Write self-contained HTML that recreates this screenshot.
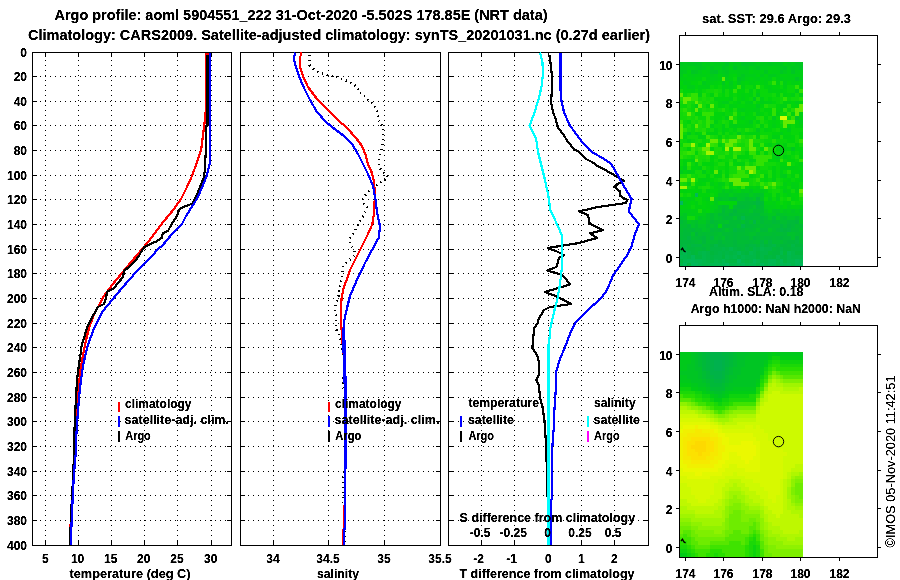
<!DOCTYPE html>
<html><head><meta charset="utf-8"><title>Argo profile</title>
<style>html,body{margin:0;padding:0;background:#fff}svg{display:block}</style></head>
<body>
<svg width="900" height="580" viewBox="0 0 900 580" font-family='"Liberation Sans", sans-serif' fill="#000">
<defs><filter id="thr" x="0" y="0" width="900" height="580" filterUnits="userSpaceOnUse" color-interpolation-filters="sRGB"><feComponentTransfer><feFuncA type="linear" slope="2.2" intercept="-0.35"/></feComponentTransfer></filter><filter id="thr2" x="0" y="0" width="900" height="580" filterUnits="userSpaceOnUse" color-interpolation-filters="sRGB"><feComponentTransfer><feFuncA type="linear" slope="2.2" intercept="-0.3"/></feComponentTransfer></filter></defs>
<rect width="900" height="580" fill="#fff"/>
<g shape-rendering="crispEdges">
<line x1="45.5" y1="55" x2="45.5" y2="545" stroke="#000" stroke-width="1" stroke-dasharray="1 4"/>
<line x1="78.5" y1="55" x2="78.5" y2="545" stroke="#000" stroke-width="1" stroke-dasharray="1 4"/>
<line x1="111.5" y1="55" x2="111.5" y2="545" stroke="#000" stroke-width="1" stroke-dasharray="1 4"/>
<line x1="144.5" y1="55" x2="144.5" y2="545" stroke="#000" stroke-width="1" stroke-dasharray="1 4"/>
<line x1="177.5" y1="55" x2="177.5" y2="545" stroke="#000" stroke-width="1" stroke-dasharray="1 4"/>
<line x1="211.5" y1="55" x2="211.5" y2="545" stroke="#000" stroke-width="1" stroke-dasharray="1 4"/>
<line x1="35" y1="76.5" x2="231" y2="76.5" stroke="#000" stroke-width="1" stroke-dasharray="1 4"/>
<line x1="35" y1="101.5" x2="231" y2="101.5" stroke="#000" stroke-width="1" stroke-dasharray="1 4"/>
<line x1="35" y1="125.5" x2="231" y2="125.5" stroke="#000" stroke-width="1" stroke-dasharray="1 4"/>
<line x1="35" y1="150.5" x2="231" y2="150.5" stroke="#000" stroke-width="1" stroke-dasharray="1 4"/>
<line x1="35" y1="175.5" x2="231" y2="175.5" stroke="#000" stroke-width="1" stroke-dasharray="1 4"/>
<line x1="35" y1="199.5" x2="231" y2="199.5" stroke="#000" stroke-width="1" stroke-dasharray="1 4"/>
<line x1="35" y1="224.5" x2="231" y2="224.5" stroke="#000" stroke-width="1" stroke-dasharray="1 4"/>
<line x1="35" y1="249.5" x2="231" y2="249.5" stroke="#000" stroke-width="1" stroke-dasharray="1 4"/>
<line x1="35" y1="273.5" x2="231" y2="273.5" stroke="#000" stroke-width="1" stroke-dasharray="1 4"/>
<line x1="35" y1="298.5" x2="231" y2="298.5" stroke="#000" stroke-width="1" stroke-dasharray="1 4"/>
<line x1="35" y1="323.5" x2="231" y2="323.5" stroke="#000" stroke-width="1" stroke-dasharray="1 4"/>
<line x1="35" y1="347.5" x2="231" y2="347.5" stroke="#000" stroke-width="1" stroke-dasharray="1 4"/>
<line x1="35" y1="372.5" x2="231" y2="372.5" stroke="#000" stroke-width="1" stroke-dasharray="1 4"/>
<line x1="35" y1="397.5" x2="231" y2="397.5" stroke="#000" stroke-width="1" stroke-dasharray="1 4"/>
<line x1="35" y1="421.5" x2="231" y2="421.5" stroke="#000" stroke-width="1" stroke-dasharray="1 4"/>
<line x1="35" y1="446.5" x2="231" y2="446.5" stroke="#000" stroke-width="1" stroke-dasharray="1 4"/>
<line x1="35" y1="471.5" x2="231" y2="471.5" stroke="#000" stroke-width="1" stroke-dasharray="1 4"/>
<line x1="35" y1="495.5" x2="231" y2="495.5" stroke="#000" stroke-width="1" stroke-dasharray="1 4"/>
<line x1="35" y1="520.5" x2="231" y2="520.5" stroke="#000" stroke-width="1" stroke-dasharray="1 4"/>
<rect x="32" y="52" width="200" height="1" fill="#000"/>
<rect x="32" y="545" width="200" height="1" fill="#000"/>
<rect x="32" y="52" width="1" height="494" fill="#000"/>
<rect x="231" y="52" width="1" height="494" fill="#000"/>
<rect x="45" y="52" width="1" height="5" fill="#000"/>
<rect x="45" y="541" width="1" height="5" fill="#000"/>
<rect x="78" y="52" width="1" height="5" fill="#000"/>
<rect x="78" y="541" width="1" height="5" fill="#000"/>
<rect x="111" y="52" width="1" height="5" fill="#000"/>
<rect x="111" y="541" width="1" height="5" fill="#000"/>
<rect x="144" y="52" width="1" height="5" fill="#000"/>
<rect x="144" y="541" width="1" height="5" fill="#000"/>
<rect x="177" y="52" width="1" height="5" fill="#000"/>
<rect x="177" y="541" width="1" height="5" fill="#000"/>
<rect x="211" y="52" width="1" height="5" fill="#000"/>
<rect x="211" y="541" width="1" height="5" fill="#000"/>
<rect x="32" y="52" width="5" height="1" fill="#000"/>
<rect x="227" y="52" width="5" height="1" fill="#000"/>
<rect x="32" y="76" width="5" height="1" fill="#000"/>
<rect x="227" y="76" width="5" height="1" fill="#000"/>
<rect x="32" y="101" width="5" height="1" fill="#000"/>
<rect x="227" y="101" width="5" height="1" fill="#000"/>
<rect x="32" y="125" width="5" height="1" fill="#000"/>
<rect x="227" y="125" width="5" height="1" fill="#000"/>
<rect x="32" y="150" width="5" height="1" fill="#000"/>
<rect x="227" y="150" width="5" height="1" fill="#000"/>
<rect x="32" y="175" width="5" height="1" fill="#000"/>
<rect x="227" y="175" width="5" height="1" fill="#000"/>
<rect x="32" y="199" width="5" height="1" fill="#000"/>
<rect x="227" y="199" width="5" height="1" fill="#000"/>
<rect x="32" y="224" width="5" height="1" fill="#000"/>
<rect x="227" y="224" width="5" height="1" fill="#000"/>
<rect x="32" y="249" width="5" height="1" fill="#000"/>
<rect x="227" y="249" width="5" height="1" fill="#000"/>
<rect x="32" y="273" width="5" height="1" fill="#000"/>
<rect x="227" y="273" width="5" height="1" fill="#000"/>
<rect x="32" y="298" width="5" height="1" fill="#000"/>
<rect x="227" y="298" width="5" height="1" fill="#000"/>
<rect x="32" y="323" width="5" height="1" fill="#000"/>
<rect x="227" y="323" width="5" height="1" fill="#000"/>
<rect x="32" y="347" width="5" height="1" fill="#000"/>
<rect x="227" y="347" width="5" height="1" fill="#000"/>
<rect x="32" y="372" width="5" height="1" fill="#000"/>
<rect x="227" y="372" width="5" height="1" fill="#000"/>
<rect x="32" y="397" width="5" height="1" fill="#000"/>
<rect x="227" y="397" width="5" height="1" fill="#000"/>
<rect x="32" y="421" width="5" height="1" fill="#000"/>
<rect x="227" y="421" width="5" height="1" fill="#000"/>
<rect x="32" y="446" width="5" height="1" fill="#000"/>
<rect x="227" y="446" width="5" height="1" fill="#000"/>
<rect x="32" y="471" width="5" height="1" fill="#000"/>
<rect x="227" y="471" width="5" height="1" fill="#000"/>
<rect x="32" y="495" width="5" height="1" fill="#000"/>
<rect x="227" y="495" width="5" height="1" fill="#000"/>
<rect x="32" y="520" width="5" height="1" fill="#000"/>
<rect x="227" y="520" width="5" height="1" fill="#000"/>
<rect x="32" y="545" width="5" height="1" fill="#000"/>
<rect x="227" y="545" width="5" height="1" fill="#000"/>
</g>
<g shape-rendering="crispEdges">
<line x1="273.5" y1="55" x2="273.5" y2="545" stroke="#000" stroke-width="1" stroke-dasharray="1 4"/>
<line x1="328.5" y1="55" x2="328.5" y2="545" stroke="#000" stroke-width="1" stroke-dasharray="1 4"/>
<line x1="384.5" y1="55" x2="384.5" y2="545" stroke="#000" stroke-width="1" stroke-dasharray="1 4"/>
<line x1="243" y1="76.5" x2="440" y2="76.5" stroke="#000" stroke-width="1" stroke-dasharray="1 4"/>
<line x1="243" y1="101.5" x2="440" y2="101.5" stroke="#000" stroke-width="1" stroke-dasharray="1 4"/>
<line x1="243" y1="125.5" x2="440" y2="125.5" stroke="#000" stroke-width="1" stroke-dasharray="1 4"/>
<line x1="243" y1="150.5" x2="440" y2="150.5" stroke="#000" stroke-width="1" stroke-dasharray="1 4"/>
<line x1="243" y1="175.5" x2="440" y2="175.5" stroke="#000" stroke-width="1" stroke-dasharray="1 4"/>
<line x1="243" y1="199.5" x2="440" y2="199.5" stroke="#000" stroke-width="1" stroke-dasharray="1 4"/>
<line x1="243" y1="224.5" x2="440" y2="224.5" stroke="#000" stroke-width="1" stroke-dasharray="1 4"/>
<line x1="243" y1="249.5" x2="440" y2="249.5" stroke="#000" stroke-width="1" stroke-dasharray="1 4"/>
<line x1="243" y1="273.5" x2="440" y2="273.5" stroke="#000" stroke-width="1" stroke-dasharray="1 4"/>
<line x1="243" y1="298.5" x2="440" y2="298.5" stroke="#000" stroke-width="1" stroke-dasharray="1 4"/>
<line x1="243" y1="323.5" x2="440" y2="323.5" stroke="#000" stroke-width="1" stroke-dasharray="1 4"/>
<line x1="243" y1="347.5" x2="440" y2="347.5" stroke="#000" stroke-width="1" stroke-dasharray="1 4"/>
<line x1="243" y1="372.5" x2="440" y2="372.5" stroke="#000" stroke-width="1" stroke-dasharray="1 4"/>
<line x1="243" y1="397.5" x2="440" y2="397.5" stroke="#000" stroke-width="1" stroke-dasharray="1 4"/>
<line x1="243" y1="421.5" x2="440" y2="421.5" stroke="#000" stroke-width="1" stroke-dasharray="1 4"/>
<line x1="243" y1="446.5" x2="440" y2="446.5" stroke="#000" stroke-width="1" stroke-dasharray="1 4"/>
<line x1="243" y1="471.5" x2="440" y2="471.5" stroke="#000" stroke-width="1" stroke-dasharray="1 4"/>
<line x1="243" y1="495.5" x2="440" y2="495.5" stroke="#000" stroke-width="1" stroke-dasharray="1 4"/>
<line x1="243" y1="520.5" x2="440" y2="520.5" stroke="#000" stroke-width="1" stroke-dasharray="1 4"/>
<rect x="240" y="52" width="201" height="1" fill="#000"/>
<rect x="240" y="545" width="201" height="1" fill="#000"/>
<rect x="240" y="52" width="1" height="494" fill="#000"/>
<rect x="440" y="52" width="1" height="494" fill="#000"/>
<rect x="273" y="52" width="1" height="5" fill="#000"/>
<rect x="273" y="541" width="1" height="5" fill="#000"/>
<rect x="328" y="52" width="1" height="5" fill="#000"/>
<rect x="328" y="541" width="1" height="5" fill="#000"/>
<rect x="384" y="52" width="1" height="5" fill="#000"/>
<rect x="384" y="541" width="1" height="5" fill="#000"/>
<rect x="240" y="52" width="5" height="1" fill="#000"/>
<rect x="436" y="52" width="5" height="1" fill="#000"/>
<rect x="240" y="76" width="5" height="1" fill="#000"/>
<rect x="436" y="76" width="5" height="1" fill="#000"/>
<rect x="240" y="101" width="5" height="1" fill="#000"/>
<rect x="436" y="101" width="5" height="1" fill="#000"/>
<rect x="240" y="125" width="5" height="1" fill="#000"/>
<rect x="436" y="125" width="5" height="1" fill="#000"/>
<rect x="240" y="150" width="5" height="1" fill="#000"/>
<rect x="436" y="150" width="5" height="1" fill="#000"/>
<rect x="240" y="175" width="5" height="1" fill="#000"/>
<rect x="436" y="175" width="5" height="1" fill="#000"/>
<rect x="240" y="199" width="5" height="1" fill="#000"/>
<rect x="436" y="199" width="5" height="1" fill="#000"/>
<rect x="240" y="224" width="5" height="1" fill="#000"/>
<rect x="436" y="224" width="5" height="1" fill="#000"/>
<rect x="240" y="249" width="5" height="1" fill="#000"/>
<rect x="436" y="249" width="5" height="1" fill="#000"/>
<rect x="240" y="273" width="5" height="1" fill="#000"/>
<rect x="436" y="273" width="5" height="1" fill="#000"/>
<rect x="240" y="298" width="5" height="1" fill="#000"/>
<rect x="436" y="298" width="5" height="1" fill="#000"/>
<rect x="240" y="323" width="5" height="1" fill="#000"/>
<rect x="436" y="323" width="5" height="1" fill="#000"/>
<rect x="240" y="347" width="5" height="1" fill="#000"/>
<rect x="436" y="347" width="5" height="1" fill="#000"/>
<rect x="240" y="372" width="5" height="1" fill="#000"/>
<rect x="436" y="372" width="5" height="1" fill="#000"/>
<rect x="240" y="397" width="5" height="1" fill="#000"/>
<rect x="436" y="397" width="5" height="1" fill="#000"/>
<rect x="240" y="421" width="5" height="1" fill="#000"/>
<rect x="436" y="421" width="5" height="1" fill="#000"/>
<rect x="240" y="446" width="5" height="1" fill="#000"/>
<rect x="436" y="446" width="5" height="1" fill="#000"/>
<rect x="240" y="471" width="5" height="1" fill="#000"/>
<rect x="436" y="471" width="5" height="1" fill="#000"/>
<rect x="240" y="495" width="5" height="1" fill="#000"/>
<rect x="436" y="495" width="5" height="1" fill="#000"/>
<rect x="240" y="520" width="5" height="1" fill="#000"/>
<rect x="436" y="520" width="5" height="1" fill="#000"/>
<rect x="240" y="545" width="5" height="1" fill="#000"/>
<rect x="436" y="545" width="5" height="1" fill="#000"/>
</g>
<g shape-rendering="crispEdges">
<line x1="481.5" y1="55" x2="481.5" y2="545" stroke="#000" stroke-width="1" stroke-dasharray="1 4"/>
<line x1="514.5" y1="55" x2="514.5" y2="545" stroke="#000" stroke-width="1" stroke-dasharray="1 4"/>
<line x1="548.5" y1="55" x2="548.5" y2="545" stroke="#000" stroke-width="1" stroke-dasharray="1 4"/>
<line x1="581.5" y1="55" x2="581.5" y2="545" stroke="#000" stroke-width="1" stroke-dasharray="1 4"/>
<line x1="614.5" y1="55" x2="614.5" y2="545" stroke="#000" stroke-width="1" stroke-dasharray="1 4"/>
<line x1="453" y1="76.5" x2="648" y2="76.5" stroke="#000" stroke-width="1" stroke-dasharray="1 4"/>
<line x1="453" y1="101.5" x2="648" y2="101.5" stroke="#000" stroke-width="1" stroke-dasharray="1 4"/>
<line x1="453" y1="125.5" x2="648" y2="125.5" stroke="#000" stroke-width="1" stroke-dasharray="1 4"/>
<line x1="453" y1="150.5" x2="648" y2="150.5" stroke="#000" stroke-width="1" stroke-dasharray="1 4"/>
<line x1="453" y1="175.5" x2="648" y2="175.5" stroke="#000" stroke-width="1" stroke-dasharray="1 4"/>
<line x1="453" y1="199.5" x2="648" y2="199.5" stroke="#000" stroke-width="1" stroke-dasharray="1 4"/>
<line x1="453" y1="224.5" x2="648" y2="224.5" stroke="#000" stroke-width="1" stroke-dasharray="1 4"/>
<line x1="453" y1="249.5" x2="648" y2="249.5" stroke="#000" stroke-width="1" stroke-dasharray="1 4"/>
<line x1="453" y1="273.5" x2="648" y2="273.5" stroke="#000" stroke-width="1" stroke-dasharray="1 4"/>
<line x1="453" y1="298.5" x2="648" y2="298.5" stroke="#000" stroke-width="1" stroke-dasharray="1 4"/>
<line x1="453" y1="323.5" x2="648" y2="323.5" stroke="#000" stroke-width="1" stroke-dasharray="1 4"/>
<line x1="453" y1="347.5" x2="648" y2="347.5" stroke="#000" stroke-width="1" stroke-dasharray="1 4"/>
<line x1="453" y1="372.5" x2="648" y2="372.5" stroke="#000" stroke-width="1" stroke-dasharray="1 4"/>
<line x1="453" y1="397.5" x2="648" y2="397.5" stroke="#000" stroke-width="1" stroke-dasharray="1 4"/>
<line x1="453" y1="421.5" x2="648" y2="421.5" stroke="#000" stroke-width="1" stroke-dasharray="1 4"/>
<line x1="453" y1="446.5" x2="648" y2="446.5" stroke="#000" stroke-width="1" stroke-dasharray="1 4"/>
<line x1="453" y1="471.5" x2="648" y2="471.5" stroke="#000" stroke-width="1" stroke-dasharray="1 4"/>
<line x1="453" y1="495.5" x2="648" y2="495.5" stroke="#000" stroke-width="1" stroke-dasharray="1 4"/>
<line x1="453" y1="520.5" x2="648" y2="520.5" stroke="#000" stroke-width="1" stroke-dasharray="1 4"/>
<rect x="448" y="52" width="201" height="1" fill="#000"/>
<rect x="448" y="545" width="201" height="1" fill="#000"/>
<rect x="448" y="52" width="1" height="494" fill="#000"/>
<rect x="648" y="52" width="1" height="494" fill="#000"/>
<rect x="481" y="52" width="1" height="5" fill="#000"/>
<rect x="481" y="541" width="1" height="5" fill="#000"/>
<rect x="514" y="52" width="1" height="5" fill="#000"/>
<rect x="514" y="541" width="1" height="5" fill="#000"/>
<rect x="548" y="52" width="1" height="5" fill="#000"/>
<rect x="548" y="541" width="1" height="5" fill="#000"/>
<rect x="581" y="52" width="1" height="5" fill="#000"/>
<rect x="581" y="541" width="1" height="5" fill="#000"/>
<rect x="614" y="52" width="1" height="5" fill="#000"/>
<rect x="614" y="541" width="1" height="5" fill="#000"/>
<rect x="448" y="52" width="5" height="1" fill="#000"/>
<rect x="644" y="52" width="5" height="1" fill="#000"/>
<rect x="448" y="76" width="5" height="1" fill="#000"/>
<rect x="644" y="76" width="5" height="1" fill="#000"/>
<rect x="448" y="101" width="5" height="1" fill="#000"/>
<rect x="644" y="101" width="5" height="1" fill="#000"/>
<rect x="448" y="125" width="5" height="1" fill="#000"/>
<rect x="644" y="125" width="5" height="1" fill="#000"/>
<rect x="448" y="150" width="5" height="1" fill="#000"/>
<rect x="644" y="150" width="5" height="1" fill="#000"/>
<rect x="448" y="175" width="5" height="1" fill="#000"/>
<rect x="644" y="175" width="5" height="1" fill="#000"/>
<rect x="448" y="199" width="5" height="1" fill="#000"/>
<rect x="644" y="199" width="5" height="1" fill="#000"/>
<rect x="448" y="224" width="5" height="1" fill="#000"/>
<rect x="644" y="224" width="5" height="1" fill="#000"/>
<rect x="448" y="249" width="5" height="1" fill="#000"/>
<rect x="644" y="249" width="5" height="1" fill="#000"/>
<rect x="448" y="273" width="5" height="1" fill="#000"/>
<rect x="644" y="273" width="5" height="1" fill="#000"/>
<rect x="448" y="298" width="5" height="1" fill="#000"/>
<rect x="644" y="298" width="5" height="1" fill="#000"/>
<rect x="448" y="323" width="5" height="1" fill="#000"/>
<rect x="644" y="323" width="5" height="1" fill="#000"/>
<rect x="448" y="347" width="5" height="1" fill="#000"/>
<rect x="644" y="347" width="5" height="1" fill="#000"/>
<rect x="448" y="372" width="5" height="1" fill="#000"/>
<rect x="644" y="372" width="5" height="1" fill="#000"/>
<rect x="448" y="397" width="5" height="1" fill="#000"/>
<rect x="644" y="397" width="5" height="1" fill="#000"/>
<rect x="448" y="421" width="5" height="1" fill="#000"/>
<rect x="644" y="421" width="5" height="1" fill="#000"/>
<rect x="448" y="446" width="5" height="1" fill="#000"/>
<rect x="644" y="446" width="5" height="1" fill="#000"/>
<rect x="448" y="471" width="5" height="1" fill="#000"/>
<rect x="644" y="471" width="5" height="1" fill="#000"/>
<rect x="448" y="495" width="5" height="1" fill="#000"/>
<rect x="644" y="495" width="5" height="1" fill="#000"/>
<rect x="448" y="520" width="5" height="1" fill="#000"/>
<rect x="644" y="520" width="5" height="1" fill="#000"/>
<rect x="448" y="545" width="5" height="1" fill="#000"/>
<rect x="644" y="545" width="5" height="1" fill="#000"/>
</g>
<g>
<polyline points="206.3,52.5 206.3,105.0 204.3,125.0 201.2,150.0 197.0,162.0 192.4,175.0 187.0,187.0 181.0,199.0 174.0,209.0 164.0,221.0 154.0,234.0 149.6,240.0 143.0,248.0 132.0,261.0 122.0,273.0 112.0,285.0 104.0,296.0 98.0,307.0 93.0,317.0 89.0,328.0 86.0,340.0 83.6,352.0 81.0,366.0 79.4,380.0 78.0,398.0 77.0,416.0 75.5,434.0 74.5,455.0 73.5,480.0 71.5,506.0 70.3,530.0 70.0,545.0" fill="none" stroke="#f00" stroke-width="2.2" stroke-linejoin="round" shape-rendering="crispEdges"/>
<rect x="206" y="53" width="3" height="2" fill="#f00"/>
<polyline points="207.5,55.0 207.5,126.0 206.0,127.0 205.9,150.0 205.4,158.0 205.0,170.0 203.6,178.0 200.0,187.0 196.0,197.0 192.4,203.6 186.0,206.0 179.6,209.0 177.0,216.0 173.0,222.0 170.0,227.0 168.0,231.0 163.0,233.0 161.6,238.0 156.0,241.6 150.0,244.0 144.0,247.3 141.0,252.0 139.0,256.0 136.0,260.0 130.0,266.0 124.0,271.0 123.0,277.0 118.0,283.0 114.0,288.0 107.0,292.0 106.0,298.0 104.0,304.0 98.0,307.0 94.0,314.0 91.0,319.0 87.0,328.0 84.0,338.0 81.6,346.0 80.4,355.6 79.0,364.0 77.0,380.0 76.0,398.0 75.0,416.0 74.4,434.0 74.0,455.0 73.0,480.0 71.5,506.0 70.5,530.0 70.2,545.0" fill="none" stroke="#000" stroke-width="2.2" stroke-linejoin="round" shape-rendering="crispEdges"/>
<polyline points="209.6,52.5 209.6,164.0 207.0,175.0 203.0,185.0 198.0,197.0 193.0,205.0 186.0,216.0 182.0,224.0 172.0,234.0 162.0,246.0 158.0,249.0 152.0,256.0 144.0,264.0 134.0,274.4 122.0,288.0 112.0,300.0 103.0,311.0 98.0,320.0 93.0,331.0 89.0,342.0 86.0,352.0 83.0,366.0 81.0,380.0 79.0,398.0 77.6,416.0 76.4,434.0 75.6,455.0 75.0,460.0 73.6,480.0 72.3,506.0 71.3,530.0 71.0,545.0" fill="none" stroke="#00f" stroke-width="2.2" stroke-linejoin="round" shape-rendering="crispEdges"/>
</g>
<polyline points="309.4,55.0 309.4,59.0 309.4,62.0 309.6,65.0 314.0,69.4 318.6,72.0 323.6,74.0 329.0,75.4 334.0,76.4 339.0,77.6 343.6,79.6 348.6,81.6 353.6,84.0 357.4,88.0 359.0,92.6 365.0,97.0 369.0,101.0 373.0,103.6 376.0,108.0 377.4,113.0 378.4,118.0 379.6,123.0 382.4,126.0 383.0,131.0 383.4,136.0 383.0,141.0 382.0,148.0 380.0,153.0 379.4,158.0 379.0,163.0 379.6,168.0 383.6,172.4 388.0,176.4 384.4,180.0 379.0,183.6 370.0,190.0 365.0,195.6 362.4,200.0 363.0,203.0 367.0,207.0 365.6,211.0 364.0,215.0 361.0,219.6 357.6,225.0 355.0,230.4 352.0,235.6 349.0,240.0 351.6,245.6 354.0,250.0 355.0,254.4 350.0,259.6 345.6,263.6 342.4,268.0 342.4,272.4 341.6,277.6 340.4,282.4 339.4,287.6 339.0,292.4 338.4,297.6 336.4,302.4 335.0,307.4 335.0,312.4 336.4,317.4 336.0,322.4 336.0,327.4 337.0,332.4 340.0,337.0 341.0,342.0 341.6,347.0 342.4,352.0 344.8,357.0 344.8,362.0 344.8,367.0 344.8,372.0 342.7,377.0 342.7,382.0 342.7,387.0 344.8,392.0 344.8,397.0 344.8,402.0 344.8,407.0 344.8,412.0 344.8,417.0 344.8,422.0 344.8,427.0 344.8,432.0 344.8,437.0 344.8,442.0 344.8,447.0 344.8,452.0 344.8,457.0 344.8,462.0 344.8,467.0 344.8,472.0 342.7,477.0 342.7,482.0 342.7,487.0 342.7,492.0 342.7,497.0 342.7,502.0 344.8,507.0 344.8,512.0 344.8,517.0 344.8,522.0 344.8,527.0 344.8,532.0 344.8,537.0 344.8,542.0" fill="none" stroke="#000" stroke-width="2.4" stroke-linejoin="round" stroke-dasharray="1.2 3.8" shape-rendering="crispEdges"/>
<polyline points="301.6,52.5 299.6,59.0 300.4,68.0 303.0,76.4 308.0,87.0 317.0,99.0 328.0,110.0 338.0,120.0 347.0,128.0 356.0,138.0 362.0,146.0 366.0,156.0 368.4,165.6 371.0,170.0 373.6,180.0 375.0,192.0 374.4,206.0 373.6,216.0 372.4,224.0 368.0,234.0 363.0,244.0 358.0,254.0 353.0,264.0 350.0,270.0 347.0,279.0 343.6,288.0 341.6,298.0 341.0,308.0 341.0,320.0 341.6,330.0 342.4,342.0 343.4,352.0 344.6,366.0 345.2,385.6 345.3,470.0 344.6,505.0 344.2,528.0 342.9,530.0 342.9,545.0" fill="none" stroke="#f00" stroke-width="2.2" stroke-linejoin="round" shape-rendering="crispEdges"/>
<polyline points="295.0,52.5 294.0,59.0 295.6,66.0 299.0,76.4 304.0,88.0 310.0,100.0 317.0,112.0 326.0,122.0 332.0,127.0 344.0,136.0 352.0,144.0 358.0,154.0 361.0,160.0 368.0,174.0 373.0,186.0 375.6,200.0 377.0,212.0 379.6,224.4 379.6,230.0 378.6,238.0 372.0,250.0 365.0,263.0 359.0,275.6 356.0,282.0 350.0,296.0 347.0,308.0 344.4,320.0 343.4,332.0 343.6,350.0 344.4,366.0 345.2,385.6 345.5,468.0 345.2,470.0 345.2,498.0 344.7,502.0 344.7,528.0 344.1,531.0 344.1,545.0" fill="none" stroke="#00f" stroke-width="2.2" stroke-linejoin="round" shape-rendering="crispEdges"/>
<polyline points="343.8,328.0 344.0,350.0 344.6,366.0 345.2,385.6 345.5,468.0" fill="none" stroke="#00f" stroke-width="3.2" stroke-linejoin="round" shape-rendering="crispEdges"/>
<polyline points="550.3,55.0 550.4,62.0 552.0,76.0 552.0,90.0 551.0,102.0 553.0,112.0 556.0,120.0 557.6,127.0 563.0,134.0 568.0,142.0 574.0,149.0 579.0,152.0 586.0,159.0 592.0,162.0 597.0,165.6 600.0,167.0 614.0,175.0 624.0,181.0 618.0,183.6 614.4,187.0 619.6,191.0 620.4,196.0 627.0,200.0 626.0,203.0 598.0,207.0 579.0,211.4 588.0,215.0 589.6,223.6 603.0,230.0 590.0,233.4 597.0,238.0 579.0,243.0 547.6,248.0 556.0,251.0 564.0,255.0 559.0,258.0 556.4,267.0 547.0,270.5 561.0,274.4 565.0,278.0 570.0,284.4 545.0,292.0 558.0,297.0 571.0,304.0 550.0,307.0 544.0,310.0 541.6,314.0 539.0,318.0 537.6,323.0 534.4,328.0 533.6,334.0 533.0,340.0 532.4,348.0 535.0,352.0 538.0,357.0 539.0,364.0 539.0,374.0 536.4,380.0 539.0,386.0 540.0,398.0 542.4,406.0 544.4,420.0 545.6,438.0 546.4,446.0 546.5,459.0 547.0,470.0 547.0,497.0" fill="none" stroke="#000" stroke-width="2.2" stroke-linejoin="round" shape-rendering="crispEdges"/>
<polyline points="560.5,52.5 560.5,90.0 561.6,102.0 564.0,112.0 569.0,124.0 576.0,134.0 583.0,143.0 592.0,152.0 604.0,159.0 611.0,163.5 617.0,174.0 625.0,188.0 631.6,199.0 630.0,205.0 629.0,211.6 639.0,224.4 635.0,234.0 631.6,246.0 628.0,254.0 621.0,264.0 613.0,275.6 607.0,290.0 601.0,298.4 590.0,308.0 575.0,323.0 570.0,334.0 565.0,347.0 560.0,359.0 556.4,371.0 556.0,385.6 555.6,392.0 554.4,410.0 553.6,430.0 552.4,446.0 552.0,470.0 552.0,498.0 551.2,500.0 551.2,530.0 550.8,545.0" fill="none" stroke="#00f" stroke-width="2.2" stroke-linejoin="round" shape-rendering="crispEdges"/>
<polyline points="540.0,52.5 542.4,62.0 543.0,74.0 541.6,86.0 539.0,98.0 534.0,114.0 529.6,125.6 536.0,138.0 538.0,152.0 540.0,160.0 545.0,180.0 548.4,196.0 550.4,210.0 556.0,222.0 562.0,235.6 562.4,250.0 561.6,264.0 561.6,270.0 560.0,284.0 557.6,298.0 554.0,312.0 550.4,328.0 549.0,344.0 548.5,360.0 548.5,385.6 548.5,470.0 548.8,545.0" fill="none" stroke="#0ff" stroke-width="2.2" stroke-linejoin="round" shape-rendering="crispEdges"/>
<polyline points="549.0,344.0 548.5,360.0 548.5,545.0" fill="none" stroke="#0ff" stroke-width="3" stroke-linejoin="round" shape-rendering="crispEdges"/>
<g shape-rendering="crispEdges">
<rect x="118" y="402" width="2" height="10" fill="#f00"/>
<rect x="118" y="416" width="2" height="11" fill="#00f"/>
<rect x="118" y="431" width="2" height="11" fill="#000"/>
<rect x="328" y="402" width="2" height="10" fill="#f00"/>
<rect x="328" y="416" width="2" height="11" fill="#00f"/>
<rect x="328" y="431" width="2" height="11" fill="#000"/>
<rect x="460" y="416" width="2" height="11" fill="#00f"/>
<rect x="460" y="431" width="2" height="11" fill="#000"/>
<rect x="587" y="416" width="2" height="11" fill="#0ff"/>
<rect x="587" y="431" width="2" height="11" fill="#f0f"/>
</g>
<g shape-rendering="crispEdges">
<path fill="#00b85f" d="M679 201h4v4h-4zM725 263h4v3h-4z"/>
<path fill="#00b85a" d="M695 193h3v4h-3zM737 259h4v4h-4zM683 263h4v3h-4zM691 263h7v3h-7zM760 263h4v3h-4zM799 263h4v3h-4z"/>
<path fill="#00b855" d="M691 255h4v4h-4zM687 259h8v4h-8zM753 259h3v4h-3zM780 259h3v4h-3zM795 259h4v4h-4zM722 263h3v3h-3zM741 263h4v3h-4zM768 263h4v3h-4zM780 263h3v3h-3zM787 263h4v3h-4zM795 263h4v3h-4z"/>
<path fill="#00b850" d="M683 251h4v4h-4zM737 251h4v4h-4zM787 251h4v4h-4zM679 255h4v4h-4zM683 259h4v4h-4zM695 259h7v4h-7zM722 259h3v4h-3zM768 259h8v4h-8zM799 259h4v4h-4zM698 263h4v3h-4zM710 263h12v3h-12zM737 263h4v3h-4zM749 263h7v3h-7zM772 263h4v3h-4zM783 263h4v3h-4z"/>
<path fill="#00b84b" d="M741 216h4v4h-4zM729 247h4v4h-4zM760 247h4v4h-4zM702 251h4v4h-4zM749 251h4v4h-4zM780 251h3v4h-3zM683 255h4v4h-4zM702 255h4v4h-4zM725 255h4v4h-4zM733 255h4v4h-4zM741 255h4v4h-4zM776 255h4v4h-4zM787 255h4v4h-4zM702 259h4v4h-4zM714 259h4v4h-4zM756 259h4v4h-4zM787 259h8v4h-8zM679 263h4v3h-4zM702 263h8v3h-8zM729 263h8v3h-8zM745 263h4v3h-4zM764 263h4v3h-4zM791 263h4v3h-4z"/>
<path fill="#00b746" d="M753 220h3v4h-3zM741 224h4v4h-4zM714 244h4v3h-4zM760 244h4v3h-4zM772 244h4v3h-4zM791 244h4v3h-4zM683 247h4v4h-4zM722 247h3v4h-3zM753 247h3v4h-3zM764 247h8v4h-8zM780 247h3v4h-3zM679 251h4v4h-4zM687 251h4v4h-4zM698 251h4v4h-4zM706 251h4v4h-4zM718 251h4v4h-4zM725 251h4v4h-4zM733 251h4v4h-4zM753 251h3v4h-3zM760 251h8v4h-8zM791 251h4v4h-4zM687 255h4v4h-4zM706 255h4v4h-4zM714 255h8v4h-8zM729 255h4v4h-4zM745 255h11v4h-11zM760 255h4v4h-4zM791 255h12v4h-12zM706 259h4v4h-4zM718 259h4v4h-4zM725 259h4v4h-4zM741 259h4v4h-4zM749 259h4v4h-4zM760 259h8v4h-8zM776 259h4v4h-4zM756 263h4v3h-4zM776 263h4v3h-4z"/>
<path fill="#00b741" d="M756 201h4v4h-4zM733 228h4v4h-4zM780 228h3v4h-3zM787 228h4v4h-4zM687 236h4v4h-4zM710 236h4v4h-4zM760 240h4v4h-4zM768 240h4v4h-4zM795 240h4v4h-4zM683 244h4v3h-4zM691 244h11v3h-11zM749 244h7v3h-7zM768 244h4v3h-4zM710 247h12v4h-12zM725 247h4v4h-4zM733 247h4v4h-4zM745 247h4v4h-4zM756 247h4v4h-4zM791 247h12v4h-12zM714 251h4v4h-4zM722 251h3v4h-3zM729 251h4v4h-4zM741 251h4v4h-4zM695 255h7v4h-7zM710 255h4v4h-4zM737 255h4v4h-4zM768 255h4v4h-4zM780 255h7v4h-7zM679 259h4v4h-4zM710 259h4v4h-4zM729 259h8v4h-8zM745 259h4v4h-4zM783 259h4v4h-4zM687 263h4v3h-4z"/>
<path fill="#00b73c" d="M733 209h4v4h-4zM729 213h4v3h-4zM795 220h4v4h-4zM780 224h3v4h-3zM787 224h4v4h-4zM783 228h4v4h-4zM695 232h3v4h-3zM702 236h4v4h-4zM753 236h3v4h-3zM780 236h3v4h-3zM795 236h4v4h-4zM679 240h12v4h-12zM702 240h4v4h-4zM718 240h4v4h-4zM733 240h4v4h-4zM787 240h8v4h-8zM679 244h4v3h-4zM710 244h4v3h-4zM718 244h7v3h-7zM733 244h4v3h-4zM745 244h4v3h-4zM764 244h4v3h-4zM780 244h7v3h-7zM795 244h8v3h-8zM679 247h4v4h-4zM687 247h8v4h-8zM702 247h4v4h-4zM737 247h4v4h-4zM776 247h4v4h-4zM783 247h8v4h-8zM691 251h4v4h-4zM710 251h4v4h-4zM745 251h4v4h-4zM756 251h4v4h-4zM772 251h8v4h-8zM795 251h8v4h-8zM722 255h3v4h-3zM756 255h4v4h-4zM764 255h4v4h-4zM772 255h4v4h-4z"/>
<path fill="#00ba38" d="M756 197h4v4h-4zM753 201h3v4h-3zM737 205h8v4h-8zM756 205h4v4h-4zM722 209h3v4h-3zM733 213h4v3h-4zM741 213h4v3h-4zM753 213h7v3h-7zM725 216h4v4h-4zM737 216h4v4h-4zM745 216h8v4h-8zM760 216h4v4h-4zM679 220h4v4h-4zM710 220h4v4h-4zM745 220h4v4h-4zM760 220h4v4h-4zM772 220h4v4h-4zM787 220h8v4h-8zM687 224h4v4h-4zM725 224h4v4h-4zM745 224h8v4h-8zM791 224h4v4h-4zM683 228h4v4h-4zM691 228h4v4h-4zM710 228h4v4h-4zM718 228h4v4h-4zM737 228h8v4h-8zM760 228h8v4h-8zM776 228h4v4h-4zM683 232h8v4h-8zM733 232h4v4h-4zM783 232h4v4h-4zM683 236h4v4h-4zM698 236h4v4h-4zM725 236h4v4h-4zM733 236h4v4h-4zM741 236h8v4h-8zM756 236h4v4h-4zM764 236h8v4h-8zM776 236h4v4h-4zM783 236h8v4h-8zM691 240h4v4h-4zM725 240h8v4h-8zM749 240h4v4h-4zM783 240h4v4h-4zM687 244h4v3h-4zM725 244h8v3h-8zM737 244h8v3h-8zM756 244h4v3h-4zM776 244h4v3h-4zM787 244h4v3h-4zM695 247h7v4h-7zM741 247h4v4h-4zM749 247h4v4h-4zM772 247h4v4h-4zM695 251h3v4h-3zM768 251h4v4h-4zM783 251h4v4h-4z"/>
<path fill="#00bc34" d="M733 197h4v4h-4zM737 201h16v4h-16zM760 201h4v4h-4zM745 205h4v4h-4zM753 209h3v4h-3zM718 213h7v3h-7zM737 213h4v3h-4zM749 213h4v3h-4zM722 216h3v4h-3zM729 216h4v4h-4zM753 216h7v4h-7zM772 216h4v4h-4zM729 220h12v4h-12zM776 220h4v4h-4zM714 224h4v4h-4zM722 224h3v4h-3zM729 224h8v4h-8zM753 224h3v4h-3zM764 224h8v4h-8zM783 224h4v4h-4zM799 224h4v4h-4zM687 228h4v4h-4zM714 228h4v4h-4zM749 228h4v4h-4zM791 228h8v4h-8zM679 232h4v4h-4zM702 232h4v4h-4zM710 232h4v4h-4zM722 232h11v4h-11zM737 232h8v4h-8zM756 232h4v4h-4zM772 232h4v4h-4zM780 232h3v4h-3zM679 236h4v4h-4zM695 236h3v4h-3zM729 236h4v4h-4zM737 236h4v4h-4zM760 236h4v4h-4zM772 236h4v4h-4zM695 240h3v4h-3zM710 240h8v4h-8zM722 240h3v4h-3zM737 240h12v4h-12zM753 240h3v4h-3zM772 240h8v4h-8zM799 240h4v4h-4zM702 244h8v3h-8zM706 247h4v4h-4z"/>
<path fill="#00be30" d="M729 197h4v4h-4zM745 197h4v4h-4zM722 205h3v4h-3zM733 205h4v4h-4zM749 205h4v4h-4zM760 205h4v4h-4zM729 209h4v4h-4zM737 209h12v4h-12zM756 209h8v4h-8zM710 213h4v3h-4zM725 213h4v3h-4zM745 213h4v3h-4zM710 216h4v4h-4zM764 216h4v4h-4zM783 216h4v4h-4zM795 216h4v4h-4zM683 220h4v4h-4zM714 220h4v4h-4zM764 220h8v4h-8zM780 220h7v4h-7zM679 224h8v4h-8zM695 224h3v4h-3zM706 224h4v4h-4zM756 224h8v4h-8zM772 224h8v4h-8zM795 224h4v4h-4zM679 228h4v4h-4zM695 228h7v4h-7zM722 228h3v4h-3zM729 228h4v4h-4zM745 228h4v4h-4zM753 228h3v4h-3zM772 228h4v4h-4zM698 232h4v4h-4zM706 232h4v4h-4zM714 232h4v4h-4zM745 232h4v4h-4zM760 232h12v4h-12zM776 232h4v4h-4zM795 232h8v4h-8zM691 236h4v4h-4zM706 236h4v4h-4zM718 236h4v4h-4zM749 236h4v4h-4zM799 236h4v4h-4zM698 240h4v4h-4zM706 240h4v4h-4zM756 240h4v4h-4zM764 240h4v4h-4zM780 240h3v4h-3z"/>
<path fill="#00c12c" d="M718 197h4v4h-4zM749 197h4v4h-4zM725 205h4v4h-4zM725 209h4v4h-4zM760 213h4v3h-4zM776 213h4v3h-4zM718 216h4v4h-4zM780 216h3v4h-3zM695 220h3v4h-3zM706 220h4v4h-4zM718 220h7v4h-7zM741 220h4v4h-4zM749 220h4v4h-4zM756 220h4v4h-4zM710 224h4v4h-4zM737 224h4v4h-4zM706 228h4v4h-4zM799 228h4v4h-4zM718 232h4v4h-4zM749 232h7v4h-7zM787 232h8v4h-8zM714 236h4v4h-4zM791 236h4v4h-4z"/>
<path fill="#00c428" d="M725 62h4v4h-4zM741 62h8v4h-8zM733 66h4v4h-4zM714 70h4v4h-4zM745 193h4v4h-4zM756 193h8v4h-8zM722 197h7v4h-7zM741 197h4v4h-4zM718 205h4v4h-4zM753 205h3v4h-3zM749 209h4v4h-4zM714 213h4v3h-4zM764 213h4v3h-4zM780 213h3v3h-3zM679 216h4v4h-4zM714 216h4v4h-4zM733 216h4v4h-4zM787 216h8v4h-8zM799 216h4v4h-4zM691 220h4v4h-4zM725 220h4v4h-4zM691 224h4v4h-4zM698 224h8v4h-8zM702 228h4v4h-4zM725 228h4v4h-4zM756 228h4v4h-4zM768 228h4v4h-4zM691 232h4v4h-4zM722 236h3v4h-3z"/>
<path fill="#00c624" d="M695 62h3v4h-3zM749 62h4v4h-4zM722 66h3v4h-3zM756 66h4v4h-4zM783 66h4v4h-4zM799 66h4v4h-4zM691 70h4v4h-4zM710 70h4v4h-4zM780 70h3v4h-3zM791 70h4v4h-4zM737 77h4v4h-4zM795 77h4v4h-4zM795 116h4v4h-4zM725 193h4v4h-4zM737 193h8v4h-8zM753 193h3v4h-3zM737 197h4v4h-4zM753 197h3v4h-3zM760 197h4v4h-4zM718 209h4v4h-4zM772 209h8v4h-8zM791 209h4v4h-4zM683 213h4v3h-4zM706 213h4v3h-4zM783 213h4v3h-4zM683 216h4v4h-4zM698 216h4v4h-4zM706 216h4v4h-4zM768 216h4v4h-4zM799 220h4v4h-4z"/>
<path fill="#00c820" d="M679 62h4v4h-4zM687 62h8v4h-8zM698 62h4v4h-4zM753 62h3v4h-3zM768 62h4v4h-4zM780 62h3v4h-3zM795 62h8v4h-8zM698 66h4v4h-4zM710 66h4v4h-4zM745 66h4v4h-4zM791 66h4v4h-4zM679 70h4v4h-4zM695 70h3v4h-3zM725 70h4v4h-4zM764 70h4v4h-4zM741 74h4v3h-4zM722 81h3v4h-3zM753 97h3v4h-3zM791 147h4v4h-4zM722 189h3v4h-3zM729 189h4v4h-4zM749 189h4v4h-4zM718 193h7v4h-7zM733 193h4v4h-4zM714 197h4v4h-4zM714 209h4v4h-4zM764 209h4v4h-4zM783 209h4v4h-4zM799 209h4v4h-4zM768 213h8v3h-8zM787 213h12v3h-12zM776 216h4v4h-4zM687 220h4v4h-4zM698 220h8v4h-8z"/>
<path fill="#00cb1c" d="M683 62h4v4h-4zM706 62h4v4h-4zM714 62h11v4h-11zM733 62h8v4h-8zM756 62h12v4h-12zM772 62h8v4h-8zM787 62h4v4h-4zM679 66h8v4h-8zM695 66h3v4h-3zM702 66h4v4h-4zM725 66h4v4h-4zM737 66h8v4h-8zM753 66h3v4h-3zM780 66h3v4h-3zM795 66h4v4h-4zM683 70h4v4h-4zM722 70h3v4h-3zM783 70h4v4h-4zM679 74h4v3h-4zM710 74h4v3h-4zM725 74h4v3h-4zM760 74h4v3h-4zM768 74h8v3h-8zM741 77h4v4h-4zM702 81h4v4h-4zM729 81h4v4h-4zM737 81h4v4h-4zM756 93h4v4h-4zM756 104h4v4h-4zM772 116h4v4h-4zM749 120h4v4h-4zM756 128h4v4h-4zM687 132h4v3h-4zM737 132h4v3h-4zM776 155h4v4h-4zM683 166h4v4h-4zM679 170h4v4h-4zM783 174h4v4h-4zM741 189h4v4h-4zM760 189h4v4h-4zM749 193h4v4h-4zM714 201h4v4h-4zM787 209h4v4h-4zM795 209h4v4h-4zM679 213h4v3h-4zM799 213h4v3h-4zM702 216h4v4h-4z"/>
<path fill="#00ce18" d="M702 62h4v4h-4zM710 62h4v4h-4zM729 62h4v4h-4zM791 62h4v4h-4zM687 66h8v4h-8zM714 66h8v4h-8zM749 66h4v4h-4zM760 66h8v4h-8zM776 66h4v4h-4zM787 66h4v4h-4zM698 70h4v4h-4zM718 70h4v4h-4zM737 70h12v4h-12zM795 70h4v4h-4zM691 74h4v3h-4zM714 74h4v3h-4zM722 74h3v3h-3zM737 74h4v3h-4zM745 74h11v3h-11zM710 77h8v4h-8zM725 77h4v4h-4zM756 77h4v4h-4zM768 77h4v4h-4zM780 77h3v4h-3zM799 77h4v4h-4zM683 81h4v4h-4zM783 81h4v4h-4zM687 85h8v4h-8zM706 85h4v4h-4zM729 85h4v4h-4zM795 89h4v4h-4zM722 101h7v3h-7zM749 101h4v3h-4zM760 101h4v3h-4zM795 101h4v3h-4zM695 104h3v4h-3zM741 108h4v4h-4zM756 112h4v4h-4zM725 116h4v4h-4zM741 116h4v4h-4zM799 120h4v4h-4zM733 124h4v4h-4zM787 128h4v4h-4zM780 132h3v3h-3zM776 143h4v4h-4zM780 151h3v4h-3zM687 170h4v4h-4zM702 170h4v4h-4zM780 174h3v4h-3zM687 182h4v4h-4zM718 182h4v4h-4zM725 189h4v4h-4zM733 189h4v4h-4zM745 189h4v4h-4zM783 189h4v4h-4zM729 193h4v4h-4zM679 197h4v4h-4zM687 197h4v4h-4zM706 197h4v4h-4zM768 197h4v4h-4zM776 197h4v4h-4zM683 201h4v4h-4zM710 205h8v4h-8zM764 205h8v4h-8zM787 205h4v4h-4zM679 209h12v4h-12zM710 209h4v4h-4zM780 209h3v4h-3zM691 213h4v3h-4zM702 213h4v3h-4z"/>
<path fill="#00d014" d="M783 62h4v4h-4zM706 66h4v4h-4zM729 66h4v4h-4zM768 66h8v4h-8zM706 70h4v4h-4zM729 70h8v4h-8zM753 70h11v4h-11zM772 70h8v4h-8zM787 70h4v4h-4zM799 70h4v4h-4zM687 74h4v3h-4zM695 74h11v3h-11zM776 74h4v3h-4zM787 74h16v3h-16zM679 77h8v4h-8zM691 77h4v4h-4zM706 77h4v4h-4zM718 77h4v4h-4zM745 77h4v4h-4zM753 77h3v4h-3zM764 77h4v4h-4zM776 77h4v4h-4zM783 77h12v4h-12zM687 81h4v4h-4zM706 81h8v4h-8zM749 81h4v4h-4zM764 81h4v4h-4zM776 81h4v4h-4zM791 81h4v4h-4zM698 85h8v4h-8zM722 85h3v4h-3zM741 85h4v4h-4zM768 85h4v4h-4zM783 85h4v4h-4zM722 89h3v4h-3zM749 89h4v4h-4zM768 89h4v4h-4zM698 93h4v4h-4zM791 93h4v4h-4zM799 93h4v4h-4zM729 97h4v4h-4zM741 97h4v4h-4zM760 97h4v4h-4zM737 101h4v3h-4zM745 101h4v3h-4zM764 101h8v3h-8zM787 101h4v3h-4zM729 104h4v4h-4zM780 104h7v4h-7zM737 108h4v4h-4zM753 108h7v4h-7zM776 112h4v4h-4zM799 112h4v4h-4zM714 120h4v4h-4zM710 124h4v4h-4zM722 124h3v4h-3zM729 124h4v4h-4zM772 124h4v4h-4zM722 128h3v4h-3zM695 132h3v3h-3zM698 135h4v4h-4zM772 135h8v4h-8zM768 143h4v4h-4zM783 155h4v4h-4zM691 159h4v3h-4zM749 159h4v3h-4zM695 162h3v4h-3zM799 162h4v4h-4zM698 166h4v4h-4zM780 166h7v4h-7zM791 166h4v4h-4zM780 170h3v4h-3zM702 178h4v4h-4zM772 178h4v4h-4zM710 182h4v4h-4zM722 182h3v4h-3zM729 182h4v4h-4zM783 182h4v4h-4zM791 182h4v4h-4zM718 186h4v3h-4zM756 186h4v3h-4zM791 186h8v3h-8zM706 189h4v4h-4zM718 189h4v4h-4zM753 189h7v4h-7zM764 189h4v4h-4zM795 189h4v4h-4zM776 193h4v4h-4zM787 193h4v4h-4zM691 197h4v4h-4zM695 201h3v4h-3zM772 201h4v4h-4zM683 205h4v4h-4zM772 205h4v4h-4zM780 205h3v4h-3zM799 205h4v4h-4zM691 209h7v4h-7zM702 209h4v4h-4zM768 209h4v4h-4zM687 213h4v3h-4zM695 213h7v3h-7zM695 216h3v4h-3z"/>
<path fill="#00d210" d="M687 70h4v4h-4zM702 70h4v4h-4zM749 70h4v4h-4zM768 70h4v4h-4zM706 74h4v3h-4zM718 74h4v3h-4zM729 74h4v3h-4zM756 74h4v3h-4zM764 74h4v3h-4zM780 74h7v3h-7zM687 77h4v4h-4zM695 77h7v4h-7zM729 77h4v4h-4zM749 77h4v4h-4zM760 77h4v4h-4zM714 81h4v4h-4zM741 81h4v4h-4zM753 81h3v4h-3zM760 81h4v4h-4zM795 81h4v4h-4zM679 85h4v4h-4zM725 85h4v4h-4zM753 85h3v4h-3zM764 85h4v4h-4zM799 85h4v4h-4zM691 89h4v4h-4zM698 89h4v4h-4zM756 89h4v4h-4zM772 89h11v4h-11zM710 93h4v4h-4zM741 93h4v4h-4zM749 93h4v4h-4zM776 93h4v4h-4zM783 93h4v4h-4zM714 97h4v4h-4zM718 101h4v3h-4zM783 101h4v3h-4zM718 104h4v4h-4zM733 104h4v4h-4zM745 104h8v4h-8zM745 108h8v4h-8zM780 108h3v4h-3zM722 112h3v4h-3zM745 112h4v4h-4zM791 112h4v4h-4zM737 116h4v4h-4zM753 116h3v4h-3zM799 116h4v4h-4zM745 120h4v4h-4zM756 120h4v4h-4zM772 120h4v4h-4zM737 124h16v4h-16zM760 124h4v4h-4zM799 124h4v4h-4zM714 128h4v4h-4zM733 128h4v4h-4zM764 128h4v4h-4zM706 132h12v3h-12zM722 132h3v3h-3zM749 132h11v3h-11zM683 135h4v4h-4zM702 135h4v4h-4zM718 135h4v4h-4zM756 135h4v4h-4zM783 135h8v4h-8zM687 139h4v4h-4zM718 143h4v4h-4zM783 143h4v4h-4zM780 147h7v4h-7zM772 151h4v4h-4zM737 155h4v4h-4zM772 155h4v4h-4zM799 155h4v4h-4zM683 159h4v3h-4zM733 159h4v3h-4zM776 159h4v3h-4zM683 162h4v4h-4zM710 162h4v4h-4zM737 162h8v4h-8zM772 166h4v4h-4zM787 166h4v4h-4zM795 166h4v4h-4zM683 170h4v4h-4zM691 170h4v4h-4zM718 170h4v4h-4zM772 170h4v4h-4zM799 170h4v4h-4zM706 174h4v4h-4zM714 174h8v4h-8zM725 174h4v4h-4zM764 174h4v4h-4zM772 174h4v4h-4zM791 174h4v4h-4zM799 174h4v4h-4zM698 178h4v4h-4zM706 178h4v4h-4zM787 178h4v4h-4zM799 178h4v4h-4zM698 182h4v4h-4zM795 182h4v4h-4zM695 186h3v3h-3zM714 186h4v3h-4zM749 186h4v3h-4zM783 186h4v3h-4zM683 189h4v4h-4zM698 189h4v4h-4zM737 189h4v4h-4zM787 189h4v4h-4zM768 193h4v4h-4zM683 197h4v4h-4zM702 197h4v4h-4zM791 197h4v4h-4zM687 201h4v4h-4zM706 201h4v4h-4zM764 201h8v4h-8zM787 201h4v4h-4zM679 205h4v4h-4zM687 205h4v4h-4zM695 205h7v4h-7zM706 205h4v4h-4zM776 205h4v4h-4zM791 205h8v4h-8z"/>
<path fill="#00d50c" d="M683 74h4v3h-4zM733 74h4v3h-4zM679 81h4v4h-4zM691 81h7v4h-7zM718 81h4v4h-4zM725 81h4v4h-4zM733 81h4v4h-4zM745 81h4v4h-4zM756 81h4v4h-4zM787 81h4v4h-4zM799 81h4v4h-4zM683 85h4v4h-4zM695 85h3v4h-3zM714 85h4v4h-4zM733 85h4v4h-4zM772 85h8v4h-8zM683 89h8v4h-8zM729 89h4v4h-4zM737 89h8v4h-8zM783 89h4v4h-4zM722 93h3v4h-3zM729 93h4v4h-4zM737 93h4v4h-4zM745 93h4v4h-4zM787 93h4v4h-4zM718 97h11v4h-11zM737 97h4v4h-4zM745 97h4v4h-4zM768 97h4v4h-4zM733 101h4v3h-4zM756 101h4v3h-4zM772 101h4v3h-4zM791 101h4v3h-4zM799 101h4v3h-4zM706 104h4v4h-4zM722 104h3v4h-3zM737 104h8v4h-8zM753 104h3v4h-3zM760 104h4v4h-4zM776 104h4v4h-4zM791 104h8v4h-8zM729 108h4v4h-4zM764 108h8v4h-8zM776 108h4v4h-4zM695 112h7v4h-7zM714 112h8v4h-8zM737 112h4v4h-4zM749 112h4v4h-4zM760 112h4v4h-4zM768 112h4v4h-4zM714 116h8v4h-8zM745 116h8v4h-8zM764 116h4v4h-4zM687 120h4v4h-4zM729 120h4v4h-4zM737 120h8v4h-8zM768 120h4v4h-4zM776 120h4v4h-4zM795 120h4v4h-4zM768 124h4v4h-4zM776 124h4v4h-4zM787 124h4v4h-4zM795 124h4v4h-4zM725 128h4v4h-4zM768 128h4v4h-4zM780 128h7v4h-7zM698 132h4v3h-4zM729 132h4v3h-4zM745 132h4v3h-4zM772 132h8v3h-8zM783 132h8v3h-8zM799 132h4v3h-4zM791 135h4v4h-4zM799 135h4v4h-4zM787 139h8v4h-8zM698 143h4v4h-4zM764 143h4v4h-4zM795 143h4v4h-4zM687 147h4v4h-4zM710 147h4v4h-4zM722 147h3v4h-3zM760 147h4v4h-4zM776 147h4v4h-4zM787 147h4v4h-4zM795 147h8v4h-8zM695 151h3v4h-3zM745 151h4v4h-4zM756 151h4v4h-4zM764 151h4v4h-4zM791 151h4v4h-4zM799 151h4v4h-4zM710 155h4v4h-4zM741 155h8v4h-8zM787 155h4v4h-4zM687 159h4v3h-4zM710 159h4v3h-4zM718 159h4v3h-4zM753 159h3v3h-3zM768 159h8v3h-8zM787 159h8v3h-8zM702 162h8v4h-8zM725 162h4v4h-4zM733 162h4v4h-4zM780 162h7v4h-7zM795 162h4v4h-4zM679 166h4v4h-4zM691 166h7v4h-7zM710 166h4v4h-4zM725 166h4v4h-4zM756 166h4v4h-4zM799 166h4v4h-4zM710 170h4v4h-4zM725 170h4v4h-4zM791 170h8v4h-8zM749 174h4v4h-4zM710 178h4v4h-4zM764 178h4v4h-4zM783 178h4v4h-4zM795 178h4v4h-4zM695 182h3v4h-3zM702 182h4v4h-4zM714 182h4v4h-4zM787 182h4v4h-4zM729 186h4v3h-4zM737 186h4v3h-4zM745 186h4v3h-4zM753 186h3v3h-3zM780 186h3v3h-3zM679 189h4v4h-4zM687 189h11v4h-11zM710 189h8v4h-8zM691 193h4v4h-4zM698 193h12v4h-12zM714 193h4v4h-4zM764 193h4v4h-4zM783 193h4v4h-4zM791 193h8v4h-8zM795 197h4v4h-4zM691 201h4v4h-4zM702 201h4v4h-4zM710 201h4v4h-4zM718 201h19v4h-19zM776 201h4v4h-4zM783 201h4v4h-4zM702 205h4v4h-4zM729 205h4v4h-4zM783 205h4v4h-4zM706 209h4v4h-4zM718 224h4v4h-4z"/>
<path fill="#08d70a" d="M702 77h4v4h-4zM733 77h4v4h-4zM772 77h4v4h-4zM698 81h4v4h-4zM768 81h4v4h-4zM710 85h4v4h-4zM718 85h4v4h-4zM745 85h8v4h-8zM760 85h4v4h-4zM780 85h3v4h-3zM787 85h8v4h-8zM695 89h3v4h-3zM702 89h4v4h-4zM760 89h8v4h-8zM787 89h8v4h-8zM683 93h4v4h-4zM706 93h4v4h-4zM718 93h4v4h-4zM733 93h4v4h-4zM760 93h12v4h-12zM749 97h4v4h-4zM764 97h4v4h-4zM772 97h8v4h-8zM787 97h4v4h-4zM714 101h4v3h-4zM729 101h4v3h-4zM741 101h4v3h-4zM776 101h4v3h-4zM679 104h8v4h-8zM691 104h4v4h-4zM714 104h4v4h-4zM725 104h4v4h-4zM691 108h4v4h-4zM698 108h4v4h-4zM714 108h4v4h-4zM725 108h4v4h-4zM760 108h4v4h-4zM787 108h4v4h-4zM725 112h8v4h-8zM741 112h4v4h-4zM764 112h4v4h-4zM780 112h7v4h-7zM698 116h8v4h-8zM710 116h4v4h-4zM722 116h3v4h-3zM776 116h4v4h-4zM787 116h4v4h-4zM683 120h4v4h-4zM718 120h4v4h-4zM753 120h3v4h-3zM764 120h4v4h-4zM683 124h4v4h-4zM691 124h4v4h-4zM714 124h8v4h-8zM753 124h3v4h-3zM780 124h3v4h-3zM791 124h4v4h-4zM691 128h4v4h-4zM706 128h4v4h-4zM718 128h4v4h-4zM729 128h4v4h-4zM741 128h4v4h-4zM753 128h3v4h-3zM760 128h4v4h-4zM772 128h4v4h-4zM791 128h12v4h-12zM683 132h4v3h-4zM691 132h4v3h-4zM733 132h4v3h-4zM741 132h4v3h-4zM760 132h12v3h-12zM791 132h8v3h-8zM725 135h4v4h-4zM768 135h4v4h-4zM683 139h4v4h-4zM691 139h4v4h-4zM702 139h4v4h-4zM764 139h8v4h-8zM776 139h11v4h-11zM679 143h4v4h-4zM702 143h4v4h-4zM722 143h3v4h-3zM753 143h7v4h-7zM772 143h4v4h-4zM780 143h3v4h-3zM729 147h4v4h-4zM729 151h4v4h-4zM776 151h4v4h-4zM783 151h4v4h-4zM795 151h4v4h-4zM691 155h4v4h-4zM714 155h4v4h-4zM725 155h8v4h-8zM749 155h4v4h-4zM791 155h4v4h-4zM679 159h4v3h-4zM722 159h7v3h-7zM741 159h4v3h-4zM783 159h4v3h-4zM795 159h4v3h-4zM679 162h4v4h-4zM691 162h4v4h-4zM714 162h4v4h-4zM749 162h4v4h-4zM776 162h4v4h-4zM791 162h4v4h-4zM706 166h4v4h-4zM718 166h7v4h-7zM768 166h4v4h-4zM776 166h4v4h-4zM706 170h4v4h-4zM760 170h8v4h-8zM776 170h4v4h-4zM783 170h4v4h-4zM695 174h3v4h-3zM753 174h3v4h-3zM776 174h4v4h-4zM787 174h4v4h-4zM714 178h4v4h-4zM741 178h8v4h-8zM760 178h4v4h-4zM768 178h4v4h-4zM780 178h3v4h-3zM791 178h4v4h-4zM799 182h4v4h-4zM691 186h4v3h-4zM710 186h4v3h-4zM722 186h3v3h-3zM733 186h4v3h-4zM776 186h4v3h-4zM787 186h4v3h-4zM799 186h4v3h-4zM768 189h4v4h-4zM780 189h3v4h-3zM683 193h4v4h-4zM710 193h4v4h-4zM780 193h3v4h-3zM695 197h7v4h-7zM764 197h4v4h-4zM772 197h4v4h-4zM783 197h4v4h-4zM698 201h4v4h-4zM780 201h3v4h-3zM795 201h8v4h-8zM691 205h4v4h-4z"/>
<path fill="#11d909" d="M679 89h4v4h-4zM706 89h8v4h-8zM718 89h4v4h-4zM725 89h4v4h-4zM745 89h4v4h-4zM753 89h3v4h-3zM725 93h4v4h-4zM753 93h3v4h-3zM772 93h4v4h-4zM795 93h4v4h-4zM698 97h4v4h-4zM706 97h4v4h-4zM733 97h4v4h-4zM780 97h3v4h-3zM791 97h8v4h-8zM679 101h4v3h-4zM691 101h4v3h-4zM702 101h4v3h-4zM710 101h4v3h-4zM753 101h3v3h-3zM780 101h3v3h-3zM702 104h4v4h-4zM768 104h8v4h-8zM687 108h4v4h-4zM706 108h4v4h-4zM718 108h4v4h-4zM679 112h4v4h-4zM753 112h3v4h-3zM679 116h8v4h-8zM691 116h4v4h-4zM733 116h4v4h-4zM768 116h4v4h-4zM695 120h3v4h-3zM702 120h4v4h-4zM725 120h4v4h-4zM780 120h3v4h-3zM702 124h4v4h-4zM725 124h4v4h-4zM687 128h4v4h-4zM710 128h4v4h-4zM737 128h4v4h-4zM749 128h4v4h-4zM776 128h4v4h-4zM718 132h4v3h-4zM725 132h4v3h-4zM687 135h11v4h-11zM714 135h4v4h-4zM729 135h8v4h-8zM745 135h4v4h-4zM795 135h4v4h-4zM679 139h4v4h-4zM695 139h3v4h-3zM706 139h4v4h-4zM718 139h4v4h-4zM760 139h4v4h-4zM795 139h4v4h-4zM737 143h8v4h-8zM787 143h8v4h-8zM799 143h4v4h-4zM683 147h4v4h-4zM756 147h4v4h-4zM772 147h4v4h-4zM718 151h7v4h-7zM741 151h4v4h-4zM787 151h4v4h-4zM687 155h4v4h-4zM780 155h3v4h-3zM702 159h4v3h-4zM714 159h4v3h-4zM745 159h4v3h-4zM764 162h12v4h-12zM714 166h4v4h-4zM729 166h8v4h-8zM760 166h8v4h-8zM695 170h7v4h-7zM722 170h3v4h-3zM729 170h8v4h-8zM745 170h4v4h-4zM756 170h4v4h-4zM691 174h4v4h-4zM698 174h8v4h-8zM710 174h4v4h-4zM756 174h4v4h-4zM695 178h3v4h-3zM718 178h4v4h-4zM749 178h4v4h-4zM776 178h4v4h-4zM683 182h4v4h-4zM706 182h4v4h-4zM725 182h4v4h-4zM749 182h4v4h-4zM756 182h4v4h-4zM780 182h3v4h-3zM687 186h4v3h-4zM698 186h4v3h-4zM760 186h4v3h-4zM768 186h4v3h-4zM702 189h4v4h-4zM772 189h8v4h-8zM791 189h4v4h-4zM687 193h4v4h-4zM772 193h4v4h-4zM780 197h3v4h-3zM799 197h4v4h-4zM791 201h4v4h-4zM687 216h8v4h-8z"/>
<path fill="#19db07" d="M780 81h3v4h-3zM714 89h4v4h-4zM687 93h4v4h-4zM780 93h3v4h-3zM702 97h4v4h-4zM710 97h4v4h-4zM756 97h4v4h-4zM687 101h4v3h-4zM706 101h4v3h-4zM687 104h4v4h-4zM679 108h4v4h-4zM702 108h4v4h-4zM710 108h4v4h-4zM733 108h4v4h-4zM683 112h4v4h-4zM691 112h4v4h-4zM687 116h4v4h-4zM756 116h4v4h-4zM691 120h4v4h-4zM722 120h3v4h-3zM760 120h4v4h-4zM687 124h4v4h-4zM698 124h4v4h-4zM756 124h4v4h-4zM764 124h4v4h-4zM698 128h4v4h-4zM710 135h4v4h-4zM722 135h3v4h-3zM749 135h4v4h-4zM780 135h3v4h-3zM698 139h4v4h-4zM741 139h4v4h-4zM753 139h7v4h-7zM695 143h3v4h-3zM679 147h4v4h-4zM695 147h3v4h-3zM714 147h8v4h-8zM745 147h4v4h-4zM714 151h4v4h-4zM683 155h4v4h-4zM698 155h8v4h-8zM795 155h4v4h-4zM698 159h4v3h-4zM706 159h4v3h-4zM729 159h4v3h-4zM737 159h4v3h-4zM698 162h4v4h-4zM718 162h7v4h-7zM753 162h3v4h-3zM702 166h4v4h-4zM741 166h4v4h-4zM768 170h4v4h-4zM679 174h8v4h-8zM768 174h4v4h-4zM795 174h4v4h-4zM687 178h4v4h-4zM725 178h4v4h-4zM753 178h3v4h-3zM679 182h4v4h-4zM753 182h3v4h-3zM764 182h4v4h-4zM776 182h4v4h-4zM702 186h8v3h-8zM679 193h4v4h-4zM787 197h4v4h-4zM698 209h4v4h-4z"/>
<path fill="#21dd05" d="M702 93h4v4h-4zM714 93h4v4h-4zM679 97h4v4h-4zM799 97h4v4h-4zM698 101h4v3h-4zM764 104h4v4h-4zM787 104h4v4h-4zM722 108h3v4h-3zM791 108h4v4h-4zM695 116h3v4h-3zM760 116h4v4h-4zM698 120h4v4h-4zM710 120h4v4h-4zM695 128h3v4h-3zM702 128h4v4h-4zM745 128h4v4h-4zM741 135h4v4h-4zM764 135h4v4h-4zM745 139h4v4h-4zM772 139h4v4h-4zM745 143h4v4h-4zM741 147h4v4h-4zM768 147h4v4h-4zM679 151h4v4h-4zM698 151h4v4h-4zM725 151h4v4h-4zM737 151h4v4h-4zM760 151h4v4h-4zM768 151h4v4h-4zM706 155h4v4h-4zM718 155h7v4h-7zM745 162h4v4h-4zM687 166h4v4h-4zM787 170h4v4h-4zM722 174h3v4h-3zM729 174h4v4h-4zM722 178h3v4h-3zM725 186h4v3h-4z"/>
<path fill="#2adf04" d="M683 108h4v4h-4zM683 128h4v4h-4zM760 135h4v4h-4zM725 139h4v4h-4zM737 139h4v4h-4zM714 143h4v4h-4zM733 143h4v4h-4zM698 147h4v4h-4zM683 151h4v4h-4zM733 151h4v4h-4zM679 155h4v4h-4zM695 155h3v4h-3zM753 155h3v4h-3zM729 162h4v4h-4zM772 186h4v3h-4z"/>
<path fill="#32e202" d="M772 81h4v4h-4zM737 85h4v4h-4zM756 85h4v4h-4zM795 85h4v4h-4zM733 89h4v4h-4zM799 89h4v4h-4zM691 93h7v4h-7zM691 97h7v4h-7zM783 97h4v4h-4zM772 108h4v4h-4zM783 108h4v4h-4zM702 112h12v4h-12zM733 112h4v4h-4zM772 112h4v4h-4zM787 112h4v4h-4zM706 116h4v4h-4zM791 116h4v4h-4zM679 120h4v4h-4zM706 120h4v4h-4zM733 120h4v4h-4zM706 124h4v4h-4zM702 132h4v3h-4zM753 135h3v4h-3zM799 139h4v4h-4zM683 143h8v4h-8zM710 143h4v4h-4zM760 143h4v4h-4zM691 147h4v4h-4zM691 151h4v4h-4zM702 151h4v4h-4zM749 151h7v4h-7zM733 155h4v4h-4zM756 155h16v4h-16zM756 159h12v3h-12zM780 159h3v3h-3zM799 159h4v3h-4zM687 162h4v4h-4zM756 162h8v4h-8zM737 170h8v4h-8zM687 174h4v4h-4zM733 174h16v4h-16zM760 174h4v4h-4zM756 178h4v4h-4zM691 182h4v4h-4zM760 182h4v4h-4zM768 182h4v4h-4zM741 186h4v3h-4zM799 193h4v4h-4z"/>
<path fill="#3ae400" d="M706 135h4v4h-4zM687 151h4v4h-4z"/>
<path fill="#66ea00" d="M722 77h3v4h-3zM679 93h4v4h-4zM683 97h8v4h-8zM683 101h4v3h-4zM695 101h3v3h-3zM698 104h4v4h-4zM710 104h4v4h-4zM799 104h4v4h-4zM695 108h3v4h-3zM795 108h8v4h-8zM687 112h4v4h-4zM795 112h4v4h-4zM729 116h4v4h-4zM783 120h12v4h-12zM679 124h4v4h-4zM695 124h3v4h-3zM783 124h4v4h-4zM679 128h4v4h-4zM679 132h4v3h-4zM679 135h4v4h-4zM737 135h4v4h-4zM710 139h8v4h-8zM722 139h3v4h-3zM729 139h8v4h-8zM749 139h4v4h-4zM725 143h8v4h-8zM749 143h4v4h-4zM702 147h8v4h-8zM749 147h7v4h-7zM764 147h4v4h-4zM695 159h3v3h-3zM787 162h4v4h-4zM737 166h4v4h-4zM745 166h11v4h-11zM714 170h4v4h-4zM753 170h3v4h-3zM679 178h8v4h-8zM729 178h12v4h-12zM733 182h16v4h-16zM772 182h4v4h-4zM764 186h4v3h-4zM799 189h4v4h-4zM710 197h4v4h-4z"/>
<path fill="#a3f400" d="M691 143h4v4h-4zM706 143h4v4h-4zM725 147h4v4h-4zM733 147h8v4h-8zM706 151h8v4h-8zM749 170h4v4h-4zM691 178h4v4h-4zM679 186h8v3h-8z"/>
<path fill="#d8fd00" d="M780 116h7v4h-7z"/>
</g>
<g shape-rendering="crispEdges">
<path fill="#00b14e" d="M714 360h8v4h-8zM714 364h8v3h-8zM714 367h8v4h-8z"/>
<path fill="#00b347" d="M710 352h12v4h-12zM710 356h15v4h-15zM710 360h4v4h-4zM722 360h3v4h-3zM710 364h4v3h-4zM722 364h3v3h-3zM710 367h4v4h-4zM722 367h3v4h-3zM710 371h12v4h-12zM714 375h8v4h-8z"/>
<path fill="#00b640" d="M706 352h4v4h-4zM722 352h7v4h-7zM706 356h4v4h-4zM725 356h4v4h-4zM706 360h4v4h-4zM725 360h4v4h-4zM706 364h4v3h-4zM725 364h4v3h-4zM706 367h4v4h-4zM722 371h3v4h-3zM710 375h4v4h-4zM722 375h3v4h-3zM714 379h8v4h-8z"/>
<path fill="#00b939" d="M702 352h4v4h-4zM729 352h4v4h-4zM702 356h4v4h-4zM729 356h4v4h-4zM702 360h4v4h-4zM729 360h4v4h-4zM702 364h4v3h-4zM729 364h4v3h-4zM702 367h4v4h-4zM725 367h4v4h-4zM706 371h4v4h-4zM725 371h4v4h-4zM706 375h4v4h-4zM710 379h4v4h-4zM722 379h3v4h-3zM710 383h12v4h-12z"/>
<path fill="#00bd32" d="M698 352h4v4h-4zM733 352h4v4h-4zM698 356h4v4h-4zM733 356h4v4h-4zM698 360h4v4h-4zM733 360h4v4h-4zM698 364h4v3h-4zM733 364h4v3h-4zM729 367h4v4h-4zM702 371h4v4h-4zM729 371h4v4h-4zM702 375h4v4h-4zM725 375h4v4h-4zM706 379h4v4h-4zM725 379h4v4h-4zM722 383h3v4h-3zM710 387h15v4h-15z"/>
<path fill="#00c12a" d="M695 352h3v4h-3zM737 352h12v4h-12zM695 356h3v4h-3zM737 356h8v4h-8zM695 360h3v4h-3zM737 360h8v4h-8zM695 364h3v3h-3zM737 364h8v3h-8zM695 367h7v4h-7zM733 367h8v4h-8zM698 371h4v4h-4zM733 371h8v4h-8zM698 375h4v4h-4zM729 375h8v4h-8zM702 379h4v4h-4zM729 379h4v4h-4zM706 383h4v4h-4zM725 383h4v4h-4zM714 391h8v3h-8z"/>
<path fill="#00c523" d="M691 352h4v4h-4zM749 352h19v4h-19zM691 356h4v4h-4zM745 356h23v4h-23zM691 360h4v4h-4zM745 360h19v4h-19zM687 364h8v3h-8zM745 364h19v3h-19zM687 367h8v4h-8zM741 367h19v4h-19zM679 371h19v4h-19zM741 371h19v4h-19zM687 375h11v4h-11zM737 375h23v4h-23zM691 379h11v4h-11zM733 379h23v4h-23zM698 383h8v4h-8zM729 383h27v4h-27zM706 387h4v4h-4zM725 387h8v4h-8zM710 391h4v3h-4zM722 391h3v3h-3zM718 394h4v4h-4z"/>
<path fill="#00c91b" d="M679 352h12v4h-12zM768 352h4v4h-4zM776 352h27v4h-27zM679 356h12v4h-12zM679 360h12v4h-12zM764 360h4v4h-4zM679 364h8v3h-8zM679 367h8v4h-8zM760 367h4v4h-4zM760 371h4v4h-4zM679 375h8v4h-8zM679 379h12v4h-12zM756 379h4v4h-4zM691 383h7v4h-7zM698 387h8v4h-8zM733 387h23v4h-23zM706 391h4v3h-4zM725 391h4v3h-4zM714 394h4v4h-4zM722 394h3v4h-3zM679 553h4v4h-4z"/>
<path fill="#00cd14" d="M772 352h4v4h-4zM768 356h4v4h-4zM780 356h23v4h-23zM764 364h4v3h-4zM679 383h12v4h-12zM756 383h4v4h-4zM691 387h7v4h-7zM702 391h4v3h-4zM729 391h27v3h-27zM710 394h4v4h-4zM725 394h4v4h-4zM714 398h8v4h-8zM683 553h4v4h-4z"/>
<path fill="#0dd30d" d="M772 356h8v4h-8zM768 360h4v4h-4zM780 360h23v4h-23zM764 367h4v4h-4zM760 375h4v4h-4zM679 387h12v4h-12zM695 391h7v3h-7zM702 394h8v4h-8zM729 394h20v4h-20zM710 398h4v4h-4zM722 398h7v4h-7zM718 402h4v4h-4zM753 545h3v4h-3zM679 549h8v4h-8zM753 549h3v4h-3zM687 553h4v4h-4zM753 553h3v4h-3z"/>
<path fill="#1bd807" d="M772 360h8v4h-8zM768 364h4v3h-4zM780 364h23v3h-23zM764 371h4v4h-4zM760 379h4v4h-4zM756 387h4v4h-4zM679 391h16v3h-16zM756 391h4v3h-4zM695 394h7v4h-7zM749 394h7v4h-7zM702 398h8v4h-8zM729 398h27v4h-27zM714 402h4v4h-4zM722 402h7v4h-7zM753 537h3v4h-3zM749 541h7v4h-7zM679 545h8v4h-8zM749 545h4v4h-4zM756 545h4v4h-4zM687 549h4v4h-4zM749 549h4v4h-4zM756 549h4v4h-4zM691 553h4v4h-4zM714 553h4v4h-4zM749 553h4v4h-4zM756 553h4v4h-4z"/>
<path fill="#28de00" d="M772 364h8v3h-8zM768 367h4v4h-4zM776 367h27v4h-27zM764 375h4v4h-4zM760 383h4v4h-4zM683 394h12v4h-12zM695 398h7v4h-7zM706 402h8v4h-8zM729 402h4v4h-4zM714 406h11v4h-11zM753 534h3v3h-3zM749 537h4v4h-4zM679 541h8v4h-8zM756 541h4v4h-4zM687 545h4v4h-4zM745 545h4v4h-4zM691 549h4v4h-4zM710 549h12v4h-12zM745 549h4v4h-4zM695 553h3v4h-3zM706 553h8v4h-8zM718 553h7v4h-7zM745 553h4v4h-4z"/>
<path fill="#3fe300" d="M772 367h4v4h-4zM768 371h4v4h-4zM780 371h23v4h-23zM764 379h4v4h-4zM760 387h4v4h-4zM679 394h4v4h-4zM756 394h4v4h-4zM691 398h4v4h-4zM698 402h8v4h-8zM733 402h23v4h-23zM710 406h4v4h-4zM725 406h4v4h-4zM718 410h4v4h-4zM753 530h3v4h-3zM683 534h4v3h-4zM749 534h4v3h-4zM756 534h4v3h-4zM679 537h12v4h-12zM745 537h4v4h-4zM756 537h4v4h-4zM687 541h4v4h-4zM729 541h12v4h-12zM745 541h4v4h-4zM691 545h4v4h-4zM710 545h35v4h-35zM695 549h15v4h-15zM722 549h23v4h-23zM760 549h4v4h-4zM698 553h8v4h-8zM725 553h20v4h-20zM760 553h4v4h-4z"/>
<path fill="#57e700" d="M776 371h4v4h-4zM783 375h20v4h-20zM679 398h12v4h-12zM695 402h3v4h-3zM706 406h4v4h-4zM729 406h8v4h-8zM714 410h4v4h-4zM722 410h3v4h-3zM753 522h3v4h-3zM749 526h7v4h-7zM683 530h8v4h-8zM733 530h8v4h-8zM749 530h4v4h-4zM756 530h4v4h-4zM679 534h4v3h-4zM687 534h4v3h-4zM729 534h20v3h-20zM691 537h4v4h-4zM725 537h20v4h-20zM691 541h7v4h-7zM710 541h19v4h-19zM741 541h4v4h-4zM760 541h4v4h-4zM695 545h15v4h-15zM760 545h4v4h-4z"/>
<path fill="#6eec00" d="M772 371h4v4h-4zM768 375h4v4h-4zM780 375h3v4h-3zM764 383h4v4h-4zM760 391h4v3h-4zM756 398h4v4h-4zM691 402h4v4h-4zM702 406h4v4h-4zM737 406h19v4h-19zM725 410h4v4h-4zM795 483h8v4h-8zM795 487h8v4h-8zM795 491h8v4h-8zM799 495h4v4h-4zM733 510h8v4h-8zM729 514h12v4h-12zM729 518h12v4h-12zM749 518h7v4h-7zM729 522h24v4h-24zM756 522h4v4h-4zM679 526h12v4h-12zM729 526h20v4h-20zM756 526h4v4h-4zM679 530h4v4h-4zM691 530h4v4h-4zM725 530h8v4h-8zM741 530h8v4h-8zM691 534h7v3h-7zM725 534h4v3h-4zM760 534h4v3h-4zM695 537h30v4h-30zM760 537h4v4h-4zM698 541h12v4h-12zM764 545h4v4h-4zM764 549h4v4h-4zM764 553h8v4h-8z"/>
<path fill="#7fef00" d="M776 375h4v4h-4zM783 379h20v4h-20zM687 402h4v4h-4zM698 406h4v4h-4zM710 410h4v4h-4zM729 410h4v4h-4zM718 414h7v4h-7zM795 479h8v4h-8zM791 487h4v4h-4zM791 491h4v4h-4zM795 495h4v4h-4zM795 499h8v4h-8zM733 503h8v3h-8zM729 506h12v4h-12zM729 510h4v4h-4zM741 510h4v4h-4zM741 514h19v4h-19zM725 518h4v4h-4zM741 518h8v4h-8zM756 518h4v4h-4zM679 522h12v4h-12zM725 522h4v4h-4zM691 526h7v4h-7zM725 526h4v4h-4zM695 530h19v4h-19zM722 530h3v4h-3zM760 530h4v4h-4zM698 534h27v3h-27zM764 537h4v4h-4zM764 541h4v4h-4zM768 545h8v4h-8zM768 549h35v4h-35zM772 553h31v4h-31z"/>
<path fill="#8ff200" d="M772 375h4v4h-4zM768 379h4v4h-4zM780 379h3v4h-3zM764 387h4v4h-4zM760 394h4v4h-4zM679 402h8v4h-8zM756 402h4v4h-4zM691 406h7v4h-7zM702 410h8v4h-8zM733 410h23v4h-23zM714 414h4v4h-4zM725 414h4v4h-4zM795 476h8v3h-8zM791 479h4v4h-4zM791 483h4v4h-4zM733 495h4v4h-4zM791 495h4v4h-4zM729 499h12v4h-12zM791 499h4v4h-4zM729 503h4v3h-4zM741 503h4v3h-4zM795 503h8v3h-8zM725 506h4v4h-4zM741 506h8v4h-8zM725 510h4v4h-4zM745 510h15v4h-15zM725 514h4v4h-4zM679 518h12v4h-12zM760 518h4v4h-4zM691 522h11v4h-11zM722 522h3v4h-3zM760 522h4v4h-4zM698 526h27v4h-27zM760 526h4v4h-4zM714 530h8v4h-8zM764 530h4v4h-4zM764 534h4v3h-4zM768 537h8v4h-8zM768 541h15v4h-15zM776 545h27v4h-27z"/>
<path fill="#a0f500" d="M776 379h4v4h-4zM783 383h20v4h-20zM687 406h4v4h-4zM698 410h4v4h-4zM710 414h4v4h-4zM729 414h8v4h-8zM718 418h11v4h-11zM799 472h4v4h-4zM791 476h4v3h-4zM787 487h4v4h-4zM729 491h12v4h-12zM787 491h4v4h-4zM729 495h4v4h-4zM737 495h8v4h-8zM787 495h4v4h-4zM725 499h4v4h-4zM741 499h4v4h-4zM725 503h4v3h-4zM745 503h4v3h-4zM791 503h4v3h-4zM749 506h11v4h-11zM795 506h8v4h-8zM722 510h3v4h-3zM760 510h4v4h-4zM679 514h16v4h-16zM722 514h3v4h-3zM760 514h4v4h-4zM691 518h34v4h-34zM702 522h20v4h-20zM764 522h4v4h-4zM764 526h4v4h-4zM768 530h4v4h-4zM768 534h12v3h-12zM776 537h11v4h-11zM795 537h8v4h-8zM783 541h20v4h-20z"/>
<path fill="#aff700" d="M772 379h4v4h-4zM768 383h4v4h-4zM776 383h7v4h-7zM783 387h16v4h-16zM764 391h4v3h-4zM760 398h4v4h-4zM679 406h8v4h-8zM756 406h4v4h-4zM695 410h3v4h-3zM706 414h4v4h-4zM737 414h19v4h-19zM714 418h4v4h-4zM729 418h4v4h-4zM722 422h3v3h-3zM791 472h8v4h-8zM787 479h4v4h-4zM733 483h4v4h-4zM787 483h4v4h-4zM729 487h12v4h-12zM725 491h4v4h-4zM741 491h4v4h-4zM725 495h4v4h-4zM745 495h4v4h-4zM722 499h3v4h-3zM745 499h8v4h-8zM787 499h4v4h-4zM722 503h3v3h-3zM749 503h11v3h-11zM787 503h4v3h-4zM679 506h8v4h-8zM718 506h7v4h-7zM760 506h4v4h-4zM787 506h8v4h-8zM679 510h16v4h-16zM714 510h8v4h-8zM791 510h12v4h-12zM695 514h27v4h-27zM764 514h4v4h-4zM799 514h4v4h-4zM764 518h4v4h-4zM768 522h4v4h-4zM768 526h12v4h-12zM772 530h11v4h-11zM799 530h4v4h-4zM780 534h23v3h-23zM787 537h8v4h-8z"/>
<path fill="#bef800" d="M772 383h4v4h-4zM768 387h15v4h-15zM799 387h4v4h-4zM768 391h4v3h-4zM780 391h23v3h-23zM764 394h4v4h-4zM764 398h4v4h-4zM760 402h4v4h-4zM679 410h16v4h-16zM756 410h4v4h-4zM698 414h8v4h-8zM710 418h4v4h-4zM733 418h23v4h-23zM718 422h4v3h-4zM725 422h12v3h-12zM795 464h8v4h-8zM791 468h12v4h-12zM787 472h4v4h-4zM787 476h4v3h-4zM729 479h12v4h-12zM783 479h4v4h-4zM725 483h8v4h-8zM737 483h8v4h-8zM783 483h4v4h-4zM722 487h7v4h-7zM741 487h8v4h-8zM783 487h4v4h-4zM722 491h3v4h-3zM745 491h11v4h-11zM783 491h4v4h-4zM722 495h3v4h-3zM749 495h11v4h-11zM783 495h4v4h-4zM679 499h8v4h-8zM718 499h4v4h-4zM753 499h11v4h-11zM783 499h4v4h-4zM679 503h12v3h-12zM714 503h8v3h-8zM760 503h4v3h-4zM783 503h4v3h-4zM687 506h31v4h-31zM764 506h4v4h-4zM783 506h4v4h-4zM695 510h19v4h-19zM764 510h8v4h-8zM783 510h8v4h-8zM768 514h8v4h-8zM780 514h19v4h-19zM768 518h35v4h-35zM772 522h31v4h-31zM780 526h23v4h-23zM783 530h16v4h-16z"/>
<path fill="#cdfa00" d="M772 391h8v3h-8zM768 394h35v4h-35zM768 398h35v4h-35zM764 402h39v4h-39zM760 406h43v4h-43zM760 410h43v4h-43zM679 414h19v4h-19zM756 414h47v4h-47zM706 418h4v4h-4zM756 418h47v4h-47zM714 422h4v3h-4zM737 422h66v3h-66zM722 425h23v4h-23zM753 425h3v4h-3zM760 425h43v4h-43zM764 429h39v4h-39zM768 433h35v4h-35zM768 437h35v4h-35zM772 441h31v4h-31zM776 445h27v4h-27zM783 449h20v3h-20zM787 452h16v4h-16zM783 456h20v4h-20zM783 460h20v4h-20zM783 464h12v4h-12zM783 468h8v4h-8zM733 472h4v4h-4zM783 472h4v4h-4zM725 476h20v3h-20zM783 476h4v3h-4zM718 479h11v4h-11zM741 479h12v4h-12zM780 479h3v4h-3zM679 483h8v4h-8zM714 483h11v4h-11zM745 483h15v4h-15zM780 483h3v4h-3zM679 487h12v4h-12zM714 487h8v4h-8zM749 487h15v4h-15zM780 487h3v4h-3zM679 491h12v4h-12zM714 491h8v4h-8zM756 491h12v4h-12zM780 491h3v4h-3zM679 495h16v4h-16zM710 495h12v4h-12zM760 495h8v4h-8zM776 495h7v4h-7zM687 499h11v4h-11zM706 499h12v4h-12zM764 499h8v4h-8zM776 499h7v4h-7zM691 503h23v3h-23zM764 503h19v3h-19zM768 506h15v4h-15zM772 510h11v4h-11zM776 514h4v4h-4z"/>
<path fill="#d7f900" d="M679 418h27v4h-27zM710 422h4v3h-4zM718 425h4v4h-4zM745 425h8v4h-8zM756 425h4v4h-4zM722 429h42v4h-42zM753 433h15v4h-15zM756 437h12v4h-12zM760 441h12v4h-12zM760 445h16v4h-16zM760 449h23v3h-23zM760 452h27v4h-27zM760 456h23v4h-23zM760 460h23v4h-23zM729 464h8v4h-8zM760 464h23v4h-23zM725 468h20v4h-20zM760 468h23v4h-23zM722 472h11v4h-11zM737 472h46v4h-46zM679 476h8v3h-8zM710 476h15v3h-15zM745 476h38v3h-38zM679 479h39v4h-39zM753 479h27v4h-27zM687 483h27v4h-27zM760 483h20v4h-20zM691 487h23v4h-23zM764 487h16v4h-16zM691 491h23v4h-23zM768 491h12v4h-12zM695 495h15v4h-15zM768 495h8v4h-8zM698 499h8v4h-8zM772 499h4v4h-4z"/>
<path fill="#e1f900" d="M679 422h31v3h-31zM679 425h4v4h-4zM710 425h8v4h-8zM718 429h4v4h-4zM725 433h28v4h-28zM729 437h27v4h-27zM729 441h12v4h-12zM753 441h7v4h-7zM756 445h4v4h-4zM756 449h4v3h-4zM729 452h8v4h-8zM756 452h4v4h-4zM729 456h12v4h-12zM753 456h7v4h-7zM725 460h20v4h-20zM749 460h11v4h-11zM722 464h7v4h-7zM737 464h23v4h-23zM679 468h4v4h-4zM718 468h7v4h-7zM745 468h15v4h-15zM679 472h16v4h-16zM702 472h20v4h-20zM687 476h23v3h-23z"/>
<path fill="#ebf800" d="M683 425h12v4h-12zM698 425h12v4h-12zM679 429h4v4h-4zM714 429h4v4h-4zM718 433h7v4h-7zM722 437h7v4h-7zM722 441h7v4h-7zM741 441h12v4h-12zM725 445h31v4h-31zM725 449h31v3h-31zM722 452h7v4h-7zM737 452h19v4h-19zM722 456h7v4h-7zM741 456h12v4h-12zM679 460h4v4h-4zM718 460h7v4h-7zM745 460h4v4h-4zM679 464h8v4h-8zM714 464h8v4h-8zM683 468h35v4h-35zM695 472h7v4h-7z"/>
<path fill="#f1f000" d="M695 425h3v4h-3zM683 429h12v4h-12zM702 429h12v4h-12zM679 433h8v4h-8zM710 433h8v4h-8zM679 437h4v4h-4zM718 437h4v4h-4zM679 441h4v4h-4zM718 441h4v4h-4zM679 445h4v4h-4zM718 445h7v4h-7zM679 449h4v3h-4zM718 449h7v3h-7zM679 452h4v4h-4zM718 452h4v4h-4zM679 456h4v4h-4zM714 456h8v4h-8zM683 460h8v4h-8zM710 460h8v4h-8zM687 464h27v4h-27z"/>
<path fill="#f6e900" d="M695 429h7v4h-7zM687 433h23v4h-23zM683 437h8v4h-8zM710 437h8v4h-8zM683 441h4v4h-4zM714 441h4v4h-4zM683 445h4v4h-4zM714 445h4v4h-4zM683 449h4v3h-4zM714 449h4v3h-4zM683 452h4v4h-4zM710 452h8v4h-8zM683 456h8v4h-8zM706 456h8v4h-8zM691 460h19v4h-19z"/>
<path fill="#fce100" d="M691 437h19v4h-19zM687 441h8v4h-8zM706 441h8v4h-8zM687 445h4v4h-4zM706 445h8v4h-8zM687 449h8v3h-8zM706 449h8v3h-8zM687 452h11v4h-11zM702 452h8v4h-8zM691 456h15v4h-15z"/>
<path fill="#fdd900" d="M695 441h11v4h-11zM691 445h15v4h-15zM695 449h11v3h-11zM698 452h4v4h-4z"/>
</g>
<g shape-rendering="crispEdges">
<rect x="679" y="35" width="199" height="1" fill="#000"/>
<rect x="679" y="266" width="199" height="1" fill="#000"/>
<rect x="679" y="35" width="1" height="232" fill="#000"/>
<rect x="877" y="35" width="1" height="232" fill="#000"/>
<rect x="685" y="32" width="1" height="3" fill="#000"/>
<rect x="685" y="267" width="1" height="3" fill="#000"/>
<rect x="723" y="32" width="1" height="3" fill="#000"/>
<rect x="723" y="267" width="1" height="3" fill="#000"/>
<rect x="762" y="32" width="1" height="3" fill="#000"/>
<rect x="762" y="267" width="1" height="3" fill="#000"/>
<rect x="800" y="32" width="1" height="3" fill="#000"/>
<rect x="800" y="267" width="1" height="3" fill="#000"/>
<rect x="839" y="32" width="1" height="3" fill="#000"/>
<rect x="839" y="267" width="1" height="3" fill="#000"/>
<rect x="676" y="64" width="3" height="1" fill="#000"/>
<rect x="878" y="64" width="3" height="1" fill="#000"/>
<rect x="676" y="102" width="3" height="1" fill="#000"/>
<rect x="878" y="102" width="3" height="1" fill="#000"/>
<rect x="676" y="141" width="3" height="1" fill="#000"/>
<rect x="878" y="141" width="3" height="1" fill="#000"/>
<rect x="676" y="180" width="3" height="1" fill="#000"/>
<rect x="878" y="180" width="3" height="1" fill="#000"/>
<rect x="676" y="218" width="3" height="1" fill="#000"/>
<rect x="878" y="218" width="3" height="1" fill="#000"/>
<rect x="676" y="257" width="3" height="1" fill="#000"/>
<rect x="878" y="257" width="3" height="1" fill="#000"/>
<rect x="679" y="325" width="199" height="1" fill="#000"/>
<rect x="679" y="557" width="199" height="1" fill="#000"/>
<rect x="679" y="325" width="1" height="233" fill="#000"/>
<rect x="877" y="325" width="1" height="233" fill="#000"/>
<rect x="685" y="322" width="1" height="3" fill="#000"/>
<rect x="685" y="558" width="1" height="3" fill="#000"/>
<rect x="723" y="322" width="1" height="3" fill="#000"/>
<rect x="723" y="558" width="1" height="3" fill="#000"/>
<rect x="762" y="322" width="1" height="3" fill="#000"/>
<rect x="762" y="558" width="1" height="3" fill="#000"/>
<rect x="800" y="322" width="1" height="3" fill="#000"/>
<rect x="800" y="558" width="1" height="3" fill="#000"/>
<rect x="839" y="322" width="1" height="3" fill="#000"/>
<rect x="839" y="558" width="1" height="3" fill="#000"/>
<rect x="676" y="354" width="3" height="1" fill="#000"/>
<rect x="878" y="354" width="3" height="1" fill="#000"/>
<rect x="676" y="392" width="3" height="1" fill="#000"/>
<rect x="878" y="392" width="3" height="1" fill="#000"/>
<rect x="676" y="431" width="3" height="1" fill="#000"/>
<rect x="878" y="431" width="3" height="1" fill="#000"/>
<rect x="676" y="470" width="3" height="1" fill="#000"/>
<rect x="878" y="470" width="3" height="1" fill="#000"/>
<rect x="676" y="508" width="3" height="1" fill="#000"/>
<rect x="878" y="508" width="3" height="1" fill="#000"/>
<rect x="676" y="547" width="3" height="1" fill="#000"/>
<rect x="878" y="547" width="3" height="1" fill="#000"/>
</g>
<circle cx="778.5" cy="150.4" r="5.2" fill="none" stroke="#000" stroke-width="1"/>
<path d="M681 250 L682.5 248.2 L684 251 L685.6 251.8" fill="none" stroke="#000" stroke-width="1.4"/>
<circle cx="778.5" cy="441.6" r="5.2" fill="none" stroke="#000" stroke-width="1"/>
<path d="M681 541 L682.5 539.2 L684 542 L685.6 542.8" fill="none" stroke="#000" stroke-width="1.4"/>
<g filter="url(#thr2)"><text transform="translate(895,547.5) rotate(-90)" font-size="13" font-weight="normal" textLength="172" lengthAdjust="spacingAndGlyphs">©IMOS 05-Nov-2020 11:42:51</text></g>
<g filter="url(#thr)">
<text x="54.5" y="19.5" font-size="14" font-weight="bold" text-anchor="start" textLength="493" lengthAdjust="spacingAndGlyphs" >Argo profile: aoml 5904551_222 31-Oct-2020 -5.502S 178.85E (NRT data)</text>
<text x="28" y="39.5" font-size="14" font-weight="bold" text-anchor="start" textLength="622" lengthAdjust="spacingAndGlyphs" >Climatology: CARS2009. Satellite-adjusted climatology: synTS_20201031.nc (0.27d earlier)</text>
<text x="27" y="57.2" font-size="12" font-weight="bold" text-anchor="end" >0</text>
<text x="27" y="81.2" font-size="12" font-weight="bold" text-anchor="end" >20</text>
<text x="27" y="106.2" font-size="12" font-weight="bold" text-anchor="end" >40</text>
<text x="27" y="130.2" font-size="12" font-weight="bold" text-anchor="end" >60</text>
<text x="27" y="155.2" font-size="12" font-weight="bold" text-anchor="end" >80</text>
<text x="27" y="180.2" font-size="12" font-weight="bold" text-anchor="end" >100</text>
<text x="27" y="204.2" font-size="12" font-weight="bold" text-anchor="end" >120</text>
<text x="27" y="229.2" font-size="12" font-weight="bold" text-anchor="end" >140</text>
<text x="27" y="254.2" font-size="12" font-weight="bold" text-anchor="end" >160</text>
<text x="27" y="278.2" font-size="12" font-weight="bold" text-anchor="end" >180</text>
<text x="27" y="303.2" font-size="12" font-weight="bold" text-anchor="end" >200</text>
<text x="27" y="328.2" font-size="12" font-weight="bold" text-anchor="end" >220</text>
<text x="27" y="352.2" font-size="12" font-weight="bold" text-anchor="end" >240</text>
<text x="27" y="377.2" font-size="12" font-weight="bold" text-anchor="end" >260</text>
<text x="27" y="402.2" font-size="12" font-weight="bold" text-anchor="end" >280</text>
<text x="27" y="426.2" font-size="12" font-weight="bold" text-anchor="end" >300</text>
<text x="27" y="451.2" font-size="12" font-weight="bold" text-anchor="end" >320</text>
<text x="27" y="476.2" font-size="12" font-weight="bold" text-anchor="end" >340</text>
<text x="27" y="500.2" font-size="12" font-weight="bold" text-anchor="end" >360</text>
<text x="27" y="525.2" font-size="12" font-weight="bold" text-anchor="end" >380</text>
<text x="27" y="550.2" font-size="12" font-weight="bold" text-anchor="end" >400</text>
<text x="45.3" y="563" font-size="12" font-weight="bold" text-anchor="middle" >5</text>
<text x="77.6" y="563" font-size="12" font-weight="bold" text-anchor="middle" >10</text>
<text x="110.7" y="563" font-size="12" font-weight="bold" text-anchor="middle" >15</text>
<text x="143.8" y="563" font-size="12" font-weight="bold" text-anchor="middle" >20</text>
<text x="176.9" y="563" font-size="12" font-weight="bold" text-anchor="middle" >25</text>
<text x="210.8" y="563" font-size="12" font-weight="bold" text-anchor="middle" >30</text>
<text x="273" y="563" font-size="12" font-weight="bold" text-anchor="middle" >34</text>
<text x="328" y="563" font-size="12" font-weight="bold" text-anchor="middle" >34.5</text>
<text x="384" y="563" font-size="12" font-weight="bold" text-anchor="middle" >35</text>
<text x="440" y="563" font-size="12" font-weight="bold" text-anchor="middle" >35.5</text>
<text x="478.7" y="563" font-size="12" font-weight="bold" text-anchor="middle" >-2</text>
<text x="511.7" y="563" font-size="12" font-weight="bold" text-anchor="middle" >-1</text>
<text x="548.3" y="563" font-size="12" font-weight="bold" text-anchor="middle" >0</text>
<text x="581.3" y="563" font-size="12" font-weight="bold" text-anchor="middle" >1</text>
<text x="614.3" y="563" font-size="12" font-weight="bold" text-anchor="middle" >2</text>
<text x="69.5" y="578" font-size="12" font-weight="bold" text-anchor="start" textLength="121" lengthAdjust="spacingAndGlyphs" >temperature (deg C)</text>
<text x="317" y="578" font-size="12" font-weight="bold" text-anchor="start" textLength="42" lengthAdjust="spacingAndGlyphs" >salinity</text>
<text x="459.5" y="578" font-size="12" font-weight="bold" text-anchor="start" textLength="175" lengthAdjust="spacingAndGlyphs" >T difference from climatology</text>
<text x="125" y="407.6" font-size="12" font-weight="bold" text-anchor="start" textLength="66.5" lengthAdjust="spacingAndGlyphs" >climatology</text>
<text x="124.6" y="423.5" font-size="12" font-weight="bold" text-anchor="start" textLength="104.4" lengthAdjust="spacingAndGlyphs" >satellite-adj. clim.</text>
<text x="125.3" y="439.7" font-size="12" font-weight="bold" text-anchor="start" textLength="25.5" lengthAdjust="spacingAndGlyphs" >Argo</text>
<text x="335" y="407.6" font-size="12" font-weight="bold" text-anchor="start" textLength="66.5" lengthAdjust="spacingAndGlyphs" >climatology</text>
<text x="334.6" y="423.5" font-size="12" font-weight="bold" text-anchor="start" textLength="104.8" lengthAdjust="spacingAndGlyphs" >satellite-adj. clim.</text>
<text x="335.3" y="439.7" font-size="12" font-weight="bold" text-anchor="start" textLength="26" lengthAdjust="spacingAndGlyphs" >Argo</text>
<text x="468.4" y="407.3" font-size="12" font-weight="bold" text-anchor="start" textLength="70.6" lengthAdjust="spacingAndGlyphs" >temperature</text>
<text x="468" y="423.5" font-size="12" font-weight="bold" text-anchor="start" textLength="46" lengthAdjust="spacingAndGlyphs" >satellite</text>
<text x="468.4" y="439.7" font-size="12" font-weight="bold" text-anchor="start" textLength="25.6" lengthAdjust="spacingAndGlyphs" >Argo</text>
<text x="594" y="407.3" font-size="12" font-weight="bold" text-anchor="start" textLength="41.6" lengthAdjust="spacingAndGlyphs" >salinity</text>
<text x="593.6" y="423.5" font-size="12" font-weight="bold" text-anchor="start" textLength="46.4" lengthAdjust="spacingAndGlyphs" >satellite</text>
<text x="594" y="439.7" font-size="12" font-weight="bold" text-anchor="start" textLength="25.6" lengthAdjust="spacingAndGlyphs" >Argo</text>
<text x="459.6" y="522.4" font-size="12" font-weight="bold" text-anchor="start" textLength="175.5" lengthAdjust="spacingAndGlyphs" >S difference from climatology</text>
<text x="480" y="537" font-size="12" font-weight="bold" text-anchor="middle" >-0.5</text>
<text x="513.2" y="537" font-size="12" font-weight="bold" text-anchor="middle" >-0.25</text>
<text x="547.6" y="537" font-size="12" font-weight="bold" text-anchor="middle" >0</text>
<text x="580" y="537" font-size="12" font-weight="bold" text-anchor="middle" >0.25</text>
<text x="613.2" y="537" font-size="12" font-weight="bold" text-anchor="middle" >0.5</text>
<text x="685.5" y="286.7" font-size="12" font-weight="bold" text-anchor="middle" >174</text>
<text x="723.5" y="286.7" font-size="12" font-weight="bold" text-anchor="middle" >176</text>
<text x="762.5" y="286.7" font-size="12" font-weight="bold" text-anchor="middle" >178</text>
<text x="800.5" y="286.7" font-size="12" font-weight="bold" text-anchor="middle" >180</text>
<text x="839.5" y="286.7" font-size="12" font-weight="bold" text-anchor="middle" >182</text>
<text x="672.5" y="69.5" font-size="12" font-weight="bold" text-anchor="end" >10</text>
<text x="672.5" y="107.5" font-size="12" font-weight="bold" text-anchor="end" >8</text>
<text x="672.5" y="146.5" font-size="12" font-weight="bold" text-anchor="end" >6</text>
<text x="672.5" y="185.5" font-size="12" font-weight="bold" text-anchor="end" >4</text>
<text x="672.5" y="223.5" font-size="12" font-weight="bold" text-anchor="end" >2</text>
<text x="672.5" y="262.5" font-size="12" font-weight="bold" text-anchor="end" >0</text>
<text x="685.5" y="577.7" font-size="12" font-weight="bold" text-anchor="middle" >174</text>
<text x="723.5" y="577.7" font-size="12" font-weight="bold" text-anchor="middle" >176</text>
<text x="762.5" y="577.7" font-size="12" font-weight="bold" text-anchor="middle" >178</text>
<text x="800.5" y="577.7" font-size="12" font-weight="bold" text-anchor="middle" >180</text>
<text x="839.5" y="577.7" font-size="12" font-weight="bold" text-anchor="middle" >182</text>
<text x="672.5" y="359.5" font-size="12" font-weight="bold" text-anchor="end" >10</text>
<text x="672.5" y="397.5" font-size="12" font-weight="bold" text-anchor="end" >8</text>
<text x="672.5" y="436.5" font-size="12" font-weight="bold" text-anchor="end" >6</text>
<text x="672.5" y="475.5" font-size="12" font-weight="bold" text-anchor="end" >4</text>
<text x="672.5" y="513.5" font-size="12" font-weight="bold" text-anchor="end" >2</text>
<text x="672.5" y="552.5" font-size="12" font-weight="bold" text-anchor="end" >0</text>
<text x="702" y="22.7" font-size="12" font-weight="bold" text-anchor="start" textLength="149" lengthAdjust="spacingAndGlyphs" >sat. SST: 29.6 Argo: 29.3</text>
<text x="709" y="296.4" font-size="12" font-weight="bold" text-anchor="start" textLength="94.5" lengthAdjust="spacingAndGlyphs" >Altim. SLA: 0.18</text>
<text x="690.7" y="312.7" font-size="12" font-weight="bold" text-anchor="start" textLength="170.3" lengthAdjust="spacingAndGlyphs" >Argo h1000: NaN h2000: NaN</text>
</g>
</svg>
</body></html>
